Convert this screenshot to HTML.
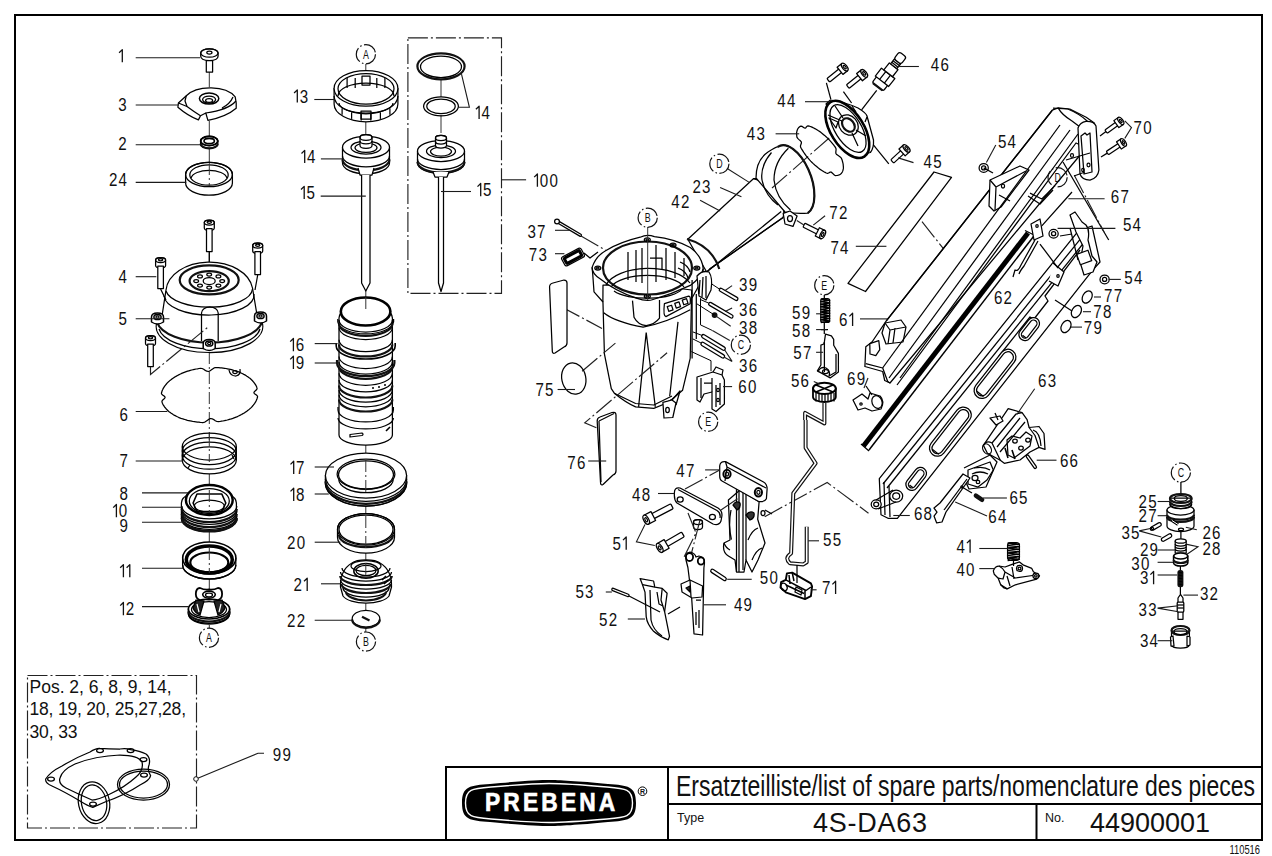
<!DOCTYPE html>
<html><head><meta charset="utf-8"><style>
html,body{margin:0;padding:0;background:#fff;}
svg{display:block;}
text{font-family:"Liberation Sans",sans-serif;fill:#111;}
.lb{font-size:17.6px;}
.ld{stroke:#1a1a1a;stroke-width:1.1;fill:none;}
.p{stroke:#000;stroke-width:1.25;fill:#fff;stroke-linejoin:round;}
.pn{stroke:#000;stroke-width:1.25;fill:none;stroke-linejoin:round;}
.th{stroke:#111;stroke-width:2.2;fill:none;}
.dd{stroke:#222;stroke-width:1.15;fill:none;stroke-dasharray:20 3 2 3;}
.axs{stroke:#333;stroke-width:1;fill:none;}
.ax{stroke:#333;stroke-width:1;fill:none;stroke-dasharray:12 3 2 3;}
.cc{stroke:#111;stroke-width:1.2;fill:none;stroke-dasharray:15 2.5 1.5 2.5;}
</style></head><body>
<svg width="1272" height="856" viewBox="0 0 1272 856">
<rect x="0" y="0" width="1272" height="856" fill="#fff"/>

<line class="axs" x1="209.3" y1="72.0" x2="209.3" y2="87.0"/>
<line class="axs" x1="209.3" y1="121.0" x2="209.3" y2="137.0"/>
<line class="axs" x1="209.3" y1="148.0" x2="209.3" y2="170.0"/>
<line class="axs" x1="209.3" y1="251.0" x2="209.3" y2="262.0"/>
<line class="axs" x1="209.3" y1="474.0" x2="209.3" y2="486.0"/>
<line class="axs" x1="209.3" y1="530.0" x2="209.3" y2="544.0"/>
<line class="axs" x1="209.3" y1="577.0" x2="209.3" y2="590.0"/>
<line class="axs" x1="209.3" y1="625.0" x2="209.3" y2="628.0"/>
<line class="ax" x1="209.3" y1="352.0" x2="209.3" y2="440.0"/>
<line class="axs" x1="209.3" y1="488.0" x2="209.3" y2="500.0"/>
<path class="p" d="M200.7,53 A8.7,4.2 0 0 1 218.1,53 V56 Q218.1,60.5 209.4,60.5 Q200.7,60.5 200.7,56 Z"/>
<ellipse class="pn" cx="209.4" cy="53.0" rx="8.7" ry="4.2"/>
<ellipse class="pn" cx="209.4" cy="52.6" rx="2.6" ry="1.5"/>
<rect class="p" x="206.3" y="60.5" width="6.3" height="11.6"/>
<path class="p" d="M178.4,103 L186.3,95.7 A27.5,15.5 0 0 1 235.2,96.8 L236.2,103 V108.3 Q226,117 207.9,120.4 L205.8,113 L200.5,115.7 L198.4,119.9 Q188,116 177.9,107.3 Z"/>
<path class="pn" d="M236,101 Q228,110 205.8,113 M178.4,103 L187,106.5 Q193,111 200.5,115.7 M233,97 Q230,104 222,108"/>
<path class="pn" d="M186.3,95.7 L185,101 L187,106.5"/>
<ellipse class="pn" cx="209.1" cy="98.6" rx="9.7" ry="5.5" style="stroke-width:1.5"/>
<ellipse class="pn" cx="209.1" cy="99.6" rx="6.5" ry="3.6"/>
<ellipse class="pn" cx="209.1" cy="100.4" rx="3.5" ry="1.9"/>
<path class="p" d="M200.6,141.0 V143.8 A8.6,4.6 0 0 0 217.8,143.8 V141.0 A8.6,4.6 0 0 0 200.6,141.0 Z"/>
<ellipse class="pn" cx="209.2" cy="141.0" rx="8.6" ry="4.6"/>
<ellipse class="pn" cx="209.2" cy="141.0" rx="8.6" ry="4.6" style="stroke-width:1.8"/>
<ellipse class="pn" cx="209.2" cy="141.0" rx="5.2" ry="2.6" style="stroke-width:1.6"/>
<path class="th" d="M200.6,143.8 A8.6,4.6 0 0 0 217.8,143.8"/>
<path class="p" d="M185.6,174.5 V183.0 A23.4,12.2 0 0 0 232.4,183.0 V174.5 A23.4,12.2 0 0 0 185.6,174.5 Z"/>
<ellipse class="pn" cx="209.0" cy="174.5" rx="23.4" ry="12.2"/>
<ellipse class="pn" cx="209.0" cy="175.0" rx="19.2" ry="10.2"/>
<path class="pn" d="M191,178 A18.2,9 0 0 1 227,178"/>
<path class="p" d="M157,322 Q158,318 162,316 L166,290 A43.5,30 0 0 1 252.5,288 L257,315 Q262,318 262,322 A53,26 0 0 1 209,352.5 A53,26 0 0 1 157,322 Z"/>
<path class="th" d="M157,322 A53,24 0 0 0 262,322"/>
<path class="pn" d="M159,329 A51,23 0 0 0 260,329"/>
<path class="pn" d="M166,291 A43.5,19 0 0 0 252.5,289"/>
<path class="pn" d="M164,296 A45,20 0 0 0 254,294"/>
<ellipse class="th" cx="209.2" cy="279.9" rx="29.5" ry="14.5"/>
<ellipse class="th" cx="209.2" cy="281.1" rx="19.6" ry="10.0"/>
<ellipse class="pn" cx="209.2" cy="281.0" rx="6.0" ry="3.5"/>
<ellipse class="pn" cx="222.2" cy="281.0" rx="2.4" ry="1.5"/>
<ellipse class="pn" cx="218.4" cy="285.6" rx="2.4" ry="1.5"/>
<ellipse class="pn" cx="209.2" cy="287.5" rx="2.4" ry="1.5"/>
<ellipse class="pn" cx="200.0" cy="285.6" rx="2.4" ry="1.5"/>
<ellipse class="pn" cx="196.2" cy="281.0" rx="2.4" ry="1.5"/>
<ellipse class="pn" cx="200.0" cy="276.4" rx="2.4" ry="1.5"/>
<ellipse class="pn" cx="209.2" cy="274.5" rx="2.4" ry="1.5"/>
<ellipse class="pn" cx="218.4" cy="276.4" rx="2.4" ry="1.5"/>
<path class="pn" d="M201.5,341 V313 A8.3,6 0 0 1 218.2,313 V341"/>
<path class="p" d="M151.5,317 Q151.5,313 157.5,313 Q163.5,313 163.5,317 V322 Q157.5,326 151.5,322 Z" style="stroke-width:1.5"/>
<ellipse class="pn" cx="157.5" cy="317.0" rx="3.6" ry="2.6" style="stroke-width:1.5"/>
<ellipse class="pn" cx="157.5" cy="317.0" rx="1.6" ry="1.2"/>
<path class="p" d="M254.5,316 Q254.5,312 260.5,312 Q266.5,312 266.5,316 V321 Q260.5,325 254.5,321 Z" style="stroke-width:1.5"/>
<ellipse class="pn" cx="260.5" cy="316.0" rx="3.6" ry="2.6" style="stroke-width:1.5"/>
<ellipse class="pn" cx="260.5" cy="316.0" rx="1.6" ry="1.2"/>
<path class="p" d="M203.2,343.5 Q203.2,339.5 209.2,339.5 Q215.2,339.5 215.2,343.5 V348.5 Q209.2,352.5 203.2,348.5 Z" style="stroke-width:1.5"/>
<ellipse class="pn" cx="209.2" cy="343.5" rx="3.6" ry="2.6" style="stroke-width:1.5"/>
<ellipse class="pn" cx="209.2" cy="343.5" rx="1.6" ry="1.2"/>
<path class="p" d="M204.3,222.5 V228.0 A5.0,2.5 0 0 0 214.3,228.0 V222.5 A5.0,2.5 0 0 0 204.3,222.5 Z"/>
<ellipse class="pn" cx="209.3" cy="222.5" rx="5.0" ry="2.5"/>
<ellipse class="pn" cx="209.3" cy="222.3" rx="2.2" ry="1.1"/>
<rect class="p" x="206.5" y="228.5" width="5.6" height="23.0"/>
<path class="p" d="M155.6,260.0 V265.5 A5.0,2.5 0 0 0 165.6,265.5 V260.0 A5.0,2.5 0 0 0 155.6,260.0 Z"/>
<ellipse class="pn" cx="160.6" cy="260.0" rx="5.0" ry="2.5"/>
<ellipse class="pn" cx="160.6" cy="259.8" rx="2.2" ry="1.1"/>
<rect class="p" x="157.8" y="266.0" width="5.6" height="22.5"/>
<path class="p" d="M252.7,245.5 V251.0 A5.0,2.5 0 0 0 262.7,251.0 V245.5 A5.0,2.5 0 0 0 252.7,245.5 Z"/>
<ellipse class="pn" cx="257.7" cy="245.5" rx="5.0" ry="2.5"/>
<ellipse class="pn" cx="257.7" cy="245.3" rx="2.2" ry="1.1"/>
<rect class="p" x="254.9" y="251.5" width="5.6" height="23.0"/>
<path class="p" d="M145.5,338.0 V343.5 A5.0,2.5 0 0 0 155.5,343.5 V338.0 A5.0,2.5 0 0 0 145.5,338.0 Z"/>
<ellipse class="pn" cx="150.5" cy="338.0" rx="5.0" ry="2.5"/>
<ellipse class="pn" cx="150.5" cy="337.8" rx="2.2" ry="1.1"/>
<rect class="p" x="147.7" y="344.0" width="5.6" height="22.5"/>
<line class="pn" x1="209.3" y1="252.0" x2="209.3" y2="262.0"/>
<path class="dd" d="M150.5,367 V374.5 L209.3,326"/>
<path class="pn" d="M160.6,289 L166,300 M257.7,275 L255,290"/>
<path class="pn" d="M253.9,392.7 L254.3,393.4 L255.3,394.2 L256.4,395.0 L257.3,395.9 L257.6,396.8 L257.3,397.7 L257.1,398.5 L256.8,399.4 L256.4,400.2 L256.0,401.1 L255.6,401.9 L255.1,402.7 L254.5,403.6 L253.9,404.4 L253.3,405.2 L252.6,406.0 L251.9,406.8 L251.2,407.6 L250.4,408.3 L249.5,409.1 L248.7,409.8 L247.7,410.5 L246.8,411.3 L245.8,411.9 L244.8,412.6 L243.7,413.3 L242.6,413.9 L241.5,414.5 L240.3,415.1 L239.1,415.7 L237.9,416.3 L236.7,416.8 L235.4,417.3 L234.1,417.8 L232.8,418.3 L231.4,418.8 L230.1,419.2 L228.7,419.6 L227.3,420.0 L225.8,420.3 L224.4,420.7 L222.9,421.0 L221.5,421.2 L220.0,421.5 L218.5,421.7 L216.9,421.5 L215.3,420.7 L213.7,419.6 L212.2,418.8 L210.7,418.5 L209.3,418.9 L207.9,419.9 L206.4,421.1 L204.9,422.1 L203.3,422.5 L201.8,422.5 L200.3,422.4 L198.8,422.2 L197.4,422.1 L195.9,421.9 L194.4,421.7 L193.0,421.5 L191.6,421.2 L190.2,420.9 L188.8,420.6 L187.4,420.3 L186.1,419.9 L184.8,419.5 L183.5,419.1 L182.2,418.7 L181.0,418.3 L179.7,417.8 L178.5,417.3 L177.4,416.8 L176.3,416.2 L175.2,415.6 L174.1,415.1 L173.1,414.5 L172.1,413.8 L171.2,413.2 L170.3,412.5 L169.4,411.9 L168.5,411.2 L167.8,410.5 L167.0,409.7 L166.3,409.0 L165.6,408.2 L165.0,407.5 L164.4,406.7 L163.9,405.9 L163.4,405.1 L162.9,404.3 L162.5,403.5 L162.2,402.6 L161.9,401.8 L162.1,400.9 L162.8,399.9 L163.9,399.0 L164.8,398.1 L165.1,397.3 L164.7,396.6 L163.7,395.8 L162.6,395.0 L161.7,394.1 L161.4,393.2 L161.7,392.3 L161.9,391.5 L162.2,390.6 L162.6,389.8 L163.0,388.9 L163.4,388.1 L163.9,387.3 L164.5,386.4 L165.1,385.6 L165.7,384.8 L166.4,384.0 L167.1,383.2 L167.8,382.4 L168.6,381.7 L169.5,380.9 L170.3,380.2 L171.3,379.5 L172.2,378.7 L173.2,378.1 L174.2,377.4 L175.3,376.7 L176.4,376.1 L177.5,375.5 L178.7,374.9 L179.9,374.3 L181.1,373.7 L182.3,373.2 L183.6,372.7 L184.9,372.2 L186.2,371.7 L187.6,371.2 L188.9,370.8 L190.3,370.4 L191.7,370.0 L193.2,369.7 L194.6,369.3 L196.1,369.0 L197.5,368.8 L199.0,368.5 L200.5,368.3 L202.1,368.5 L203.7,369.3 L205.3,370.4 L206.8,371.2 L208.3,371.5 L209.7,371.1 L211.1,370.1 L212.6,368.9 L214.1,367.9 L215.7,367.5 L217.2,367.5 L218.7,367.6 L220.2,367.8 L221.6,367.9 L223.1,368.1 L224.6,368.3 L226.0,368.5 L227.4,368.8 L228.8,369.1 L230.2,369.4 L231.6,369.7 L232.9,370.1 L234.2,370.5 L235.5,370.9 L236.8,371.3 L238.0,371.7 L239.3,372.2 L240.5,372.7 L241.6,373.2 L242.7,373.8 L243.8,374.4 L244.9,374.9 L245.9,375.5 L246.9,376.2 L247.8,376.8 L248.7,377.5 L249.6,378.1 L250.5,378.8 L251.2,379.5 L252.0,380.3 L252.7,381.0 L253.4,381.8 L254.0,382.5 L254.6,383.3 L255.1,384.1 L255.6,384.9 L256.1,385.7 L256.5,386.5 L256.8,387.4 L257.1,388.2 L256.9,389.1 L256.2,390.1 L255.1,391.0 L254.2,391.9 L253.9,392.7 Z"/>
<path class="pn" d="M229,370 Q230,376 236,376 Q241,375 240,369"/>
<ellipse class="pn" cx="235.0" cy="372.0" rx="2.2" ry="1.5"/>
<ellipse class="pn" cx="209.3" cy="446.5" rx="27.0" ry="13.5"/>
<ellipse class="pn" cx="209.3" cy="451.1" rx="27.0" ry="13.5"/>
<ellipse class="pn" cx="209.3" cy="455.7" rx="27.0" ry="13.5"/>
<ellipse class="pn" cx="209.3" cy="460.3" rx="27.0" ry="13.5"/>
<path class="pn" d="M182.3,446.5 V460.3 M236.3,446.5 V460.3"/>
<path class="pn" d="M232,455 L234,459 M188,468 L190,465"/>
<path class="p" d="M181.4,503 V518 A27.5,13 0 0 0 236.4,518 V503 A27.5,13 0 0 0 181.4,503 Z"/>
<path class="pn" d="M181.8,506.0 A27.5,13.0 0 0 0 236.8,506.0"/>
<path class="th" d="M181.8,509.0 A27.5,13.0 0 0 0 236.8,509.0"/>
<path class="pn" d="M181.8,511.5 A27.5,13.0 0 0 0 236.8,511.5"/>
<path class="th" d="M181.8,514.0 A27.5,13.0 0 0 0 236.8,514.0"/>
<path class="pn" d="M181.8,516.5 A27.5,13.0 0 0 0 236.8,516.5"/>
<path class="th" d="M181.8,518.5 A27.5,13.0 0 0 0 236.8,518.5"/>
<path class="th" d="M181.8,518.0 A27.5,13.0 0 0 0 236.8,518.0"/>
<ellipse class="p" cx="209.3" cy="500.0" rx="23.4" ry="15.0" style="stroke-width:2.4"/>
<ellipse class="pn" cx="209.3" cy="501.0" rx="20.0" ry="12.5"/>
<path class="pn" d="M193.1,503 L197,494 H221.8 L225.8,503 L221.8,511.6 H197 Z" style="stroke-width:1.6"/>
<ellipse class="pn" cx="209.3" cy="506.0" rx="15.0" ry="6.0"/>
<path class="p" d="M182.6,558 V565 A26.6,14 0 0 0 235.8,565 V558 Z"/>
<ellipse class="p" cx="209.3" cy="558.0" rx="26.6" ry="16.0" style="stroke-width:1.6"/>
<ellipse class="pn" cx="209.3" cy="559.5" rx="23.0" ry="13.5" style="stroke-width:3.5"/>
<ellipse class="pn" cx="209.3" cy="562.4" rx="19.0" ry="9.9" style="stroke-width:2.2"/>
<path class="pn" d="M182.7,565.0 A26.6,14.0 0 0 0 235.9,565.0"/>
<path class="p" d="M188.5,609 V614 A20.6,10 0 0 0 229.6,614 V609 A20.6,10 0 0 0 188.5,609 Z" style="stroke-width:1.6"/>
<ellipse class="p" cx="209.0" cy="609.0" rx="20.6" ry="10.0" style="stroke-width:1.6"/>
<ellipse class="pn" cx="209.0" cy="609.5" rx="17.5" ry="8.0"/>
<path class="th" d="M188.4,611.5 A20.6,10.0 0 0 0 229.6,611.5"/>
<path class="pn" d="M188.4,614.0 A20.6,10.0 0 0 0 229.6,614.0"/>
<path class="p" d="M196,600 L193,608 Q195,613 200,615 L204,601 Z" style="fill:#222"/>
<path class="p" d="M222,600 L225,608 Q223,613 218,615 L214,601 Z" style="fill:#222"/>
<path class="pn" d="M197,604 L199,612 M221,604 L219,612" style="stroke:#fff;stroke-width:1.2"/>
<path class="p" d="M195.8,594 Q196,588 200,588 Q204,590 209,589.5 Q214,590 218,588 Q222,588 222.1,594 Q222,599 218,600 Q214,599 209,599.5 Q204,599 200,600 Q196,599 195.8,594 Z" style="stroke-width:1.8"/>
<ellipse class="pn" cx="209.0" cy="594.6" rx="6.3" ry="3.5" style="stroke-width:1.6"/>
<ellipse class="pn" cx="209.0" cy="595.0" rx="3.5" ry="1.8"/>
<line class="axs" x1="365.8" y1="64.0" x2="365.8" y2="105.0"/>
<line class="axs" x1="365.8" y1="121.0" x2="365.8" y2="135.0"/>
<line class="axs" x1="365.8" y1="290.0" x2="365.8" y2="310.0"/>
<line class="axs" x1="365.8" y1="445.0" x2="365.8" y2="455.0"/>
<line class="axs" x1="365.8" y1="505.0" x2="365.8" y2="515.0"/>
<line class="axs" x1="365.8" y1="553.0" x2="365.8" y2="570.0"/>
<line class="axs" x1="365.8" y1="603.0" x2="365.8" y2="632.0"/>
<line class="ax" x1="365.8" y1="455.0" x2="365.8" y2="500.0"/>
<line class="ax" x1="365.8" y1="515.0" x2="365.8" y2="548.0"/>
<path class="p" d="M334.1,88.4 V104 A31.9,17.8 0 0 0 397.9,104 V88.4 Z"/>
<ellipse class="p" cx="366.0" cy="88.4" rx="31.9" ry="17.8"/>
<ellipse class="pn" cx="366.0" cy="88.8" rx="28.0" ry="15.3"/>
<path class="pn" d="M338,96 A28,13 0 0 1 394,96"/>
<path class="pn" d="M339.0,103.0 A27.0,10.0 0 0 0 393.0,103.0"/>
<path class="pn" d="M334.1,96.0 A31.9,17.8 0 0 0 397.9,96.0"/>
<line class="pn" x1="342.1" y1="108.2" x2="342.1" y2="114.8"/>
<line class="pn" x1="351.6" y1="112.3" x2="351.6" y2="118.9"/>
<line class="pn" x1="361.2" y1="114.0" x2="361.2" y2="120.6"/>
<line class="pn" x1="370.8" y1="114.0" x2="370.8" y2="120.6"/>
<line class="pn" x1="380.4" y1="112.3" x2="380.4" y2="118.9"/>
<line class="pn" x1="389.9" y1="108.2" x2="389.9" y2="114.8"/>
<rect class="pn" x="361" y="111" width="10" height="8"/>
<line class="pn" x1="347.1" y1="78.0" x2="347.1" y2="88.0"/>
<line class="pn" x1="355.2" y1="78.0" x2="355.2" y2="88.0"/>
<line class="pn" x1="376.8" y1="78.0" x2="376.8" y2="88.0"/>
<line class="pn" x1="384.9" y1="78.0" x2="384.9" y2="88.0"/>
<rect class="pn" x="362" y="76" width="8" height="9"/>
<path class="p" d="M342.5,147.2 V163 A23.5,10.8 0 0 0 389.5,163 V147.2 Z"/>
<ellipse class="p" cx="366.0" cy="147.2" rx="23.5" ry="10.8"/>
<path class="pn" d="M342.5,156.0 A23.5,10.8 0 0 0 389.5,156.0"/>
<path class="th" d="M342.5,159.5 A23.5,10.8 0 0 0 389.5,159.5"/>
<ellipse class="pn" cx="366.0" cy="147.5" rx="15.0" ry="6.5"/>
<ellipse class="pn" cx="366.0" cy="147.8" rx="11.0" ry="4.6"/>
<path class="p" d="M360.0,137.5 V145.5 A6.0,2.8 0 0 0 372.0,145.5 V137.5 A6.0,2.8 0 0 0 360.0,137.5 Z"/>
<ellipse class="pn" cx="366.0" cy="137.5" rx="6.0" ry="2.8"/>
<path class="pn" d="M360.0,141.0 A6.0,2.8 0 0 0 372.0,141.0"/>
<path class="p" d="M358,168 L360,175 H372 L374,168"/>
<path class="p" d="M361.6,175 V283 L365.8,291 L370,283 V175"/>
<path class="p" d="M339,318 V435 A26.7,10 0 0 0 392.4,435 V318 A26.7,13 0 0 0 339,318 Z"/>
<path class="pn" d="M337.8,319 V322 A28,13 0 0 0 393.6,322 V319"/>
<path class="pn" d="M339.0,320.0 A26.7,12.0 0 0 0 392.4,320.0"/>
<path class="th" d="M339.0,323.8 A26.7,12.0 0 0 0 392.4,323.8"/>
<path class="pn" d="M339.0,327.5 A26.7,12.0 0 0 0 392.4,327.5"/>
<path class="pn" d="M339.0,339.7 A26.7,12.0 0 0 0 392.4,339.7"/>
<path class="th" d="M339.0,344.4 A26.7,12.0 0 0 0 392.4,344.4"/>
<path class="pn" d="M339.0,356.5 A26.7,12.0 0 0 0 392.4,356.5"/>
<path class="pn" d="M339.0,362.0 A26.7,12.0 0 0 0 392.4,362.0"/>
<path class="th" d="M339.0,366.8 A26.7,12.0 0 0 0 392.4,366.8"/>
<path class="pn" d="M339.0,373.3 A26.7,12.0 0 0 0 392.4,373.3"/>
<path class="pn" d="M339.0,379.9 A26.7,12.0 0 0 0 392.4,379.9"/>
<path class="th" d="M339.0,385.5 A26.7,12.0 0 0 0 392.4,385.5"/>
<path class="pn" d="M339.0,390.1 A26.7,12.0 0 0 0 392.4,390.1"/>
<path class="pn" d="M339.0,394.8 A26.7,12.0 0 0 0 392.4,394.8"/>
<path class="th" d="M339.0,399.5 A26.7,12.0 0 0 0 392.4,399.5"/>
<path class="pn" d="M336.2,343 V346 A29.5,13 0 0 0 395.2,346 V343" style="stroke-width:1.6"/>
<path class="th" d="M337,360 V363 A28.7,13 0 0 0 394.4,363 V360"/>
<path class="pn" d="M338,407 V410 A27.7,12 0 0 0 393.4,410 V407"/>
<path class="pn" d="M338,418 A27.7,11 0 0 0 393.4,418"/>
<ellipse class="p" cx="365.6" cy="311.5" rx="24.8" ry="14.0" style="stroke-width:2.6"/>
<path class="pn" d="M350,437 L362,435.5 Q364,434 362,433 L350,434.5 Z"/>
<path class="pn" d="M386,431 L390,427 M372,388 L374,388 M378,387 L380,387 M384,385 L386,385" style="stroke-width:1.6"/>
<path class="p" d="M325.4,475.6 V482 A40.6,24 0 0 0 406.6,482 V475.6 Z"/>
<ellipse class="p" cx="366.0" cy="475.6" rx="40.6" ry="22.5"/>
<path class="pn" d="M325.4,478.9 A40.6,22.5 0 0 0 406.6,478.9"/>
<path class="th" d="M325.4,481.4 A40.6,22.5 0 0 0 406.6,481.4"/>
<path class="pn" d="M325.4,483.6 A40.6,22.5 0 0 0 406.6,483.6"/>
<ellipse class="pn" cx="366.0" cy="474.2" rx="28.9" ry="15.1"/>
<ellipse class="pn" cx="366.0" cy="474.8" rx="27.5" ry="14.0"/>
<path class="pn" d="M338.8,479.6 A27.2,13.1 0 0 0 393.2,479.6"/>
<path class="p" d="M337.5,529.3 V537.3 A28.5,15.8 0 0 0 394.5,537.3 V529.3 A28.5,15.8 0 0 0 337.5,529.3 Z"/>
<ellipse class="pn" cx="366.0" cy="529.3" rx="28.5" ry="15.8"/>
<ellipse class="pn" cx="366.0" cy="529.6" rx="27.0" ry="14.6"/>
<path class="th" d="M339,535 A27,12.1 0 0 0 393,535"/>
<path class="p" d="M340.5,587 Q340,570 352,563 A15,5 0 0 1 380,563 Q392,570 391.5,587 L389,596 A24,10 0 0 1 343,596 Z"/>
<ellipse class="pn" cx="366.0" cy="566.0" rx="15.0" ry="5.5"/>
<ellipse class="pn" cx="366.0" cy="570.9" rx="12.2" ry="7.4" style="stroke-width:1.5"/>
<ellipse class="pn" cx="366.0" cy="570.5" rx="10.0" ry="5.2"/>
<path class="pn" d="M342.0,568.0 A24.0,9.0 0 0 0 390.0,568.0"/>
<path class="pn" d="M340.5,572.0 A25.5,9.0 0 0 0 391.5,572.0"/>
<path class="th" d="M340.2,576.0 A25.8,9.0 0 0 0 391.8,576.0"/>
<path class="pn" d="M340.5,580.0 A25.5,9.0 0 0 0 391.5,580.0"/>
<path class="th" d="M341.5,584.0 A24.5,9.0 0 0 0 390.5,584.0"/>
<path class="pn" d="M343.0,588.0 A23.0,9.0 0 0 0 389.0,588.0"/>
<path class="th" d="M346.0,591.5 A20.0,9.0 0 0 0 386.0,591.5"/>
<path class="pn" d="M382,580 L386,576 M384,584 L388,580" style="stroke-width:1.6"/>
<ellipse class="p" cx="366.0" cy="618.7" rx="13.8" ry="8.3"/>
<path class="th" d="M352.2,619.5 A13.8,8.3 0 0 0 379.8,619.5"/>
<line class="th" x1="362.0" y1="616.8" x2="369.5" y2="620.5"/>
<rect class="dd" x="407.9" y="37.9" width="93.6" height="255.4"/>
<line class="axs" x1="441.0" y1="79.0" x2="441.0" y2="97.0"/>
<line class="axs" x1="441.0" y1="115.0" x2="441.0" y2="133.0"/>
<ellipse class="th" cx="441.0" cy="66.3" rx="23.6" ry="13.0"/>
<ellipse class="pn" cx="441.0" cy="66.8" rx="20.5" ry="10.7"/>
<ellipse class="pn" cx="441.0" cy="106.3" rx="17.4" ry="9.5"/>
<ellipse class="pn" cx="441.0" cy="106.3" rx="14.2" ry="7.3"/>
<path class="p" d="M417.5,151 V163 A23.5,10.5 0 0 0 464.5,163 V151 Z"/>
<ellipse class="p" cx="441.0" cy="151.0" rx="23.5" ry="10.5"/>
<path class="pn" d="M417.5,159.0 A23.5,10.5 0 0 0 464.5,159.0"/>
<path class="th" d="M417.5,162.0 A23.5,10.5 0 0 0 464.5,162.0"/>
<ellipse class="pn" cx="441.0" cy="151.3" rx="14.5" ry="6.3"/>
<ellipse class="pn" cx="441.0" cy="151.6" rx="10.5" ry="4.4"/>
<path class="p" d="M435.5,138.0 V145.5 A5.5,2.6 0 0 0 446.5,145.5 V138.0 A5.5,2.6 0 0 0 435.5,138.0 Z"/>
<ellipse class="pn" cx="441.0" cy="138.0" rx="5.5" ry="2.6"/>
<path class="pn" d="M435.5,141.5 A5.5,2.6 0 0 0 446.5,141.5"/>
<path class="p" d="M433,172 L435,177 H447 L449,172"/>
<path class="p" d="M438.5,177 V283 L441,291.5 L443.5,283 V177"/>
<path class="dd" d="M581,236 L606,250.5"/>
<path class="p" d="M687.8,239.3 L753.4,178.7 Q767,178 775,186 Q784,198 784.2,213.4 L783,217.4 L709.7,269.1 L706.7,272 Z"/>
<path class="pn" d="M706.7,272 L781.2,211.5"/>
<path class="pn" d="M709.7,269.1 L783.2,217.4"/>
<path class="th" d="M687,239 Q712,246 719.3,269"/>
<path class="pn" d="M753.4,178.7 Q771,183 779,195 Q784,204 784.2,213.4"/>
<path class="p" d="M756,178 Q756,160 768,152 Q776,147 777.7,146.9 A35.5,18 69 0 1 807.7,213.2 Q795,214 785,212 Z"/>
<path class="th" d="M777.7,146.9 A35.5,18 69 0 1 807.7,213.2"/>
<path class="pn" d="M771.5,152.5 Q760,166 762,180 Q765,195 777.9,205 M788.4,148.3 Q774,162 774,180 Q776,198 790.5,210"/>
<path class="p" d="M783.2,213.4 L790,211 L797.1,216 L793,226.4 L785,224 Z"/>
<ellipse class="pn" cx="790.0" cy="218.5" rx="2.5" ry="3.0"/>
<path class="p" d="M602.9,300 L604.4,353.8 L611.3,388.7 L614.3,393.2 Q625,402 635.6,406.9 L653.8,408.4 Q664,405 672,399.3 L682.6,390.2 L690.2,358.3 L691.7,290 L650,285 L603,285 Z"/>
<path class="pn" d="M603.7,312.8 Q615,322 643.1,327.2 Q668,322 690.2,309.7"/>
<path class="pn" d="M646.2,332.5 L638.6,406.9 M646.2,332.5 L655.3,406.9 M678,321.9 L669.7,396.3"/>
<path class="pn" d="M614.3,393.2 L635.6,403.5 L653.8,405 L672,396"/>
<path class="p" d="M662.9,402.4 L672,400 L676,403 L672.8,417.5 L664,418 Z"/>
<ellipse class="pn" cx="667.5" cy="410.0" rx="1.8" ry="2.6"/>
<path class="pn" d="M672,400 L680,391 L676,405"/>
<path class="p" d="M592.1,267.4 Q596,256 605.6,250.7 Q620,242 640.2,237.2 Q647,234 654.4,236.6 Q675,239 690.3,247.5 Q702,256 703.2,268.7 Q702,277 690.3,285.4 Q672,294 653.1,299.5 Q647,302 636.4,298.2 Q615,291 600.4,279 Q592,274 592.1,267.4 Z"/>
<path class="pn" d="M592.1,267.4 L592.7,273.8 L594,291.8 L603,302 M703.2,268.7 L702,280 L692,298"/>
<ellipse class="th" cx="647.5" cy="268.0" rx="44.5" ry="26.5"/>
<path class="pn" d="M606,285 A44,22 0 0 1 690,283"/>
<path class="pn" d="M611,287 A38,16 0 0 1 684,287"/>
<path class="pn" d="M614,291 A36,12 0 0 0 682,289"/>
<path class="p" d="M697,276 Q702,270 709,272 Q713,278 711,290 L706,300 L699,296 Z"/>
<path class="pn" d="M700,280 L699,294 M703,277 L702,297 M706,276 L706,298"/>
<path class="pn" d="M636,250 V282 M642,248 V283 M656,245 V282 M666,248 V280 M675,252 V278 M684,258 V276 M628,252 V280 M650,258 H662 V270"/>
<path class="pn" d="M680,262 Q688,265 690,272 M678,268 Q686,271 688,278"/>
<ellipse class="pn" cx="647.3" cy="239.8" rx="3.0" ry="2.0"/>
<ellipse class="pn" cx="647.3" cy="239.8" rx="1.3" ry="0.9"/>
<ellipse class="pn" cx="597.8" cy="268.0" rx="3.0" ry="2.0"/>
<ellipse class="pn" cx="597.8" cy="268.0" rx="1.3" ry="0.9"/>
<ellipse class="pn" cx="696.8" cy="268.0" rx="3.0" ry="2.0"/>
<ellipse class="pn" cx="696.8" cy="268.0" rx="1.3" ry="0.9"/>
<ellipse class="pn" cx="647.3" cy="296.3" rx="3.0" ry="2.0"/>
<ellipse class="pn" cx="647.3" cy="296.3" rx="1.3" ry="0.9"/>
<ellipse class="pn" cx="673.0" cy="245.0" rx="3.0" ry="2.0"/>
<ellipse class="pn" cx="673.0" cy="245.0" rx="1.3" ry="0.9"/>
<path class="dd" d="M561.7,307 L602,328.4"/>
<path class="dd" d="M582.1,371.2 L615.4,343.1"/>
<path class="dd" d="M596.4,427.8 L584.7,422.9 L667.1,352.8"/>
<path class="axs" d="M647.7,227 V300"/>
<path class="pn" d="M632.5,300.6 L634,317.3 Q638,325 646.2,325.7 Q655,324 659.5,318 L659.5,300"/>
<path class="p" d="M664.4,303.7 L688.7,296.1 Q691,296 690.2,303.7 L665.9,316.6 Q663,316 664.4,303.7 Z"/>
<rect class="pn" x="668.0" y="306.5" width="4.5" height="5" transform="rotate(-18 668.0 309.0)"/>
<rect class="pn" x="675.5" y="303.2" width="4.5" height="5" transform="rotate(-18 675.5 305.7)"/>
<rect class="pn" x="683.0" y="299.9" width="4.5" height="5" transform="rotate(-18 683.0 302.4)"/>
<rect class="p" x="0" y="-1.6" width="21.0" height="3.2" rx="1.6" transform="translate(719.5,289.1) rotate(30.0)"/>
<rect class="p" x="0" y="-1.6" width="27.7" height="3.2" rx="1.6" transform="translate(708.9,303.2) rotate(30.4)"/>
<circle cx="714.6" cy="315.1" r="2.9" fill="#111"/>
<rect class="p" x="0" y="-1.7" width="27.1" height="3.4" rx="1.7" transform="translate(701.9,335.4) rotate(31.3)"/>
<rect class="p" x="0" y="-1.7" width="27.1" height="3.4" rx="1.7" transform="translate(701.2,343.1) rotate(31.3)"/>
<path class="pn" d="M711,283.5 L719.5,289.1 M700.5,299.6 L708.9,303.2 M697,303.9 L714.6,315.1 M692.8,331.9 L701.9,335.4 M692.8,338.9 L701.2,343.1" style="stroke-width:1"/>
<path class="pn" d="M700.5,298.2 V324.9 L712.4,330.5" style="stroke-width:1"/>
<path class="dd" d="M712.4,330.5 L732.1,341.7"/>
<path class="pn" d="M691.4,351.6 L711,360.7 V371.2" style="stroke-width:1"/>
<path class="pn" d="M692.1,280 V358.6 M696.3,294 V339"/>
<path class="p" d="M697,377 L713,372 L722,375 L724.4,380 L724.4,404 L716,411.5 L712,409 L712,392 L704,394 L700,402 L697,400 Z"/>
<path class="pn" d="M701,378 L701,398 M712,378 L712,392 M704,383 H712 M716,385 V407 M720,383 V405"/>
<ellipse class="pn" cx="718.0" cy="390.0" rx="1.3" ry="1.6"/>
<ellipse class="pn" cx="718.0" cy="400.0" rx="1.3" ry="1.6"/>
<path class="pn" d="M713,372 L716,367 L723,370 L722,375"/>
<rect class="p" x="0" y="-1.1" width="29.0" height="2.2" rx="1.1" transform="translate(556.3,221.0) rotate(30.5)"/>
<ellipse class="p" cx="557.0" cy="221.4" rx="2.4" ry="2.4"/>
<rect class="p" x="-11" y="-5" width="22" height="10" rx="2" transform="translate(573,257) rotate(-28)"/>
<rect class="pn" style="stroke-width:3" x="-8.5" y="-3" width="17" height="6" rx="1" transform="translate(573,257) rotate(-28)"/>
<path class="pn" d="M584,253 L590,258 L598,252"/>
<path class="p" d="M549.6,288 Q549,284 553,283 L564,280 Q567,280 567,283 L567,343 Q567,346 564,347 L555,353 Q552.3,354 552.3,351 Z"/>
<ellipse class="pn" cx="573.8" cy="378.5" rx="12.0" ry="15.8" transform="rotate(-12 573.8 378.5)"/>
<path class="p" d="M597.2,421.3 Q597,418 600,417 L612,412.5 Q616,411.5 616,415 L616,471 Q616,474 613,475 L603,484.5 Q600.5,486 600.5,482 Z"/>
<path class="pn" d="M599,421 L601,482 M599,421 L614,413.5"/>
<path class="dd" d="M772,188 L852,118"/>
<path class="pn" d="M840.9,173.8 L840.4,174.2 L839.7,174.6 L839.1,174.9 L838.3,175.2 L837.5,175.4 L836.7,175.5 L835.8,175.6 L834.8,175.3 L833.7,174.4 L832.5,173.2 L831.4,172.2 L830.5,172.0 L829.6,172.4 L828.6,173.0 L827.5,173.4 L826.3,173.0 L825.1,172.4 L823.9,171.8 L822.7,171.0 L821.5,170.2 L820.2,169.4 L819.0,168.5 L817.8,167.6 L816.6,166.6 L815.4,165.6 L814.2,164.5 L813.0,163.4 L811.8,162.2 L810.7,161.1 L809.6,159.9 L808.5,158.6 L807.5,157.4 L806.4,156.1 L805.5,154.8 L804.5,153.5 L803.6,152.2 L802.8,150.9 L802.0,149.6 L801.2,148.3 L800.5,147.0 L800.5,145.6 L801.0,144.2 L801.4,143.0 L801.3,141.9 L800.4,140.8 L799.0,139.6 L797.7,138.4 L796.9,137.2 L796.8,136.1 L796.7,135.0 L796.6,134.0 L796.6,133.1 L796.7,132.1 L796.9,131.3 L797.1,130.5 L797.4,129.7 L797.7,129.0 L798.1,128.3 L798.5,127.8 L799.1,127.2 L799.6,126.8 L800.3,126.4 L801.0,126.1 L802.0,126.4 L803.3,127.2 L804.4,128.0 L805.2,128.2 L805.9,127.8 L806.4,126.9 L807.2,126.1 L808.1,125.9 L809.2,126.2 L810.3,126.5 L811.4,126.9 L812.5,127.4 L813.7,128.0 L814.9,128.6 L816.1,129.2 L817.3,130.0 L818.5,130.8 L819.8,131.6 L821.0,132.5 L822.2,133.4 L823.4,134.4 L824.6,135.4 L825.8,136.5 L827.0,137.6 L828.2,138.8 L829.3,139.9 L830.4,141.1 L831.5,142.4 L832.5,143.6 L833.6,144.9 L834.5,146.2 L835.5,147.5 L836.1,148.9 L836.0,150.5 L835.8,152.1 L835.9,153.5 L836.7,154.6 L838.2,155.6 L839.9,156.7 L841.2,157.9 L841.7,159.1 L842.2,160.3 L842.5,161.5 L842.8,162.7 L843.1,163.8 L843.2,164.9 L843.3,166.0 L843.4,167.0 L843.4,167.9 L843.3,168.9 L843.1,169.7 L842.9,170.5 L842.6,171.3 L842.3,172.0 L841.9,172.7 L841.5,173.2 L840.9,173.8 Z"/>
<path class="p" d="M830.4,100 Q845,102 858,108 Q866.2,113 867,116 L873.5,140 Q874,148 870.4,152.5 L860,155 L826,104 Z"/>
<path class="pn" d="M852,106 L856,112 M867,117 L865,122"/>
<ellipse class="p" cx="847.3" cy="129.4" rx="32.0" ry="16.5" transform="rotate(58 847.3 129.4)"/>
<ellipse class="pn" cx="847.3" cy="129.4" rx="32.0" ry="16.5" transform="rotate(58 847.3 129.4)" style="stroke-width:2.6"/>
<ellipse class="pn" cx="848.0" cy="128.5" rx="27.0" ry="13.0" transform="rotate(58 848 128.5)"/>
<ellipse class="th" cx="848.4" cy="125.0" rx="5.5" ry="7.5" transform="rotate(-40 848.4 125)"/>
<ellipse class="pn" cx="848.4" cy="125.0" rx="9.0" ry="11.0" transform="rotate(-40 848.4 125)"/>
<path class="pn" d="M828,115 L842,121 M835,106 L843,118 M852,133 L858,146 M856,130 L866,136"/>
<path class="pn" d="M829,118 L838,122 L836,128 Z"/>
<g transform="translate(844.7,67.1) rotate(141.2)"><rect class="p" x="4.0" y="-2.2" width="17.1" height="4.4" rx="1"/><path class="p" d="M0,-4.6 H6 V4.6 H0 Z"/><ellipse class="p" cx="0" cy="0" rx="2.3" ry="4.6"/><ellipse class="pn" cx="0" cy="0" rx="1.0" ry="2.1"/></g>
<g transform="translate(864.2,73.4) rotate(141.2)"><rect class="p" x="4.0" y="-2.2" width="17.1" height="4.4" rx="1"/><path class="p" d="M0,-4.6 H6 V4.6 H0 Z"/><ellipse class="p" cx="0" cy="0" rx="2.3" ry="4.6"/><ellipse class="pn" cx="0" cy="0" rx="1.0" ry="2.1"/></g>
<path class="pn" d="M826.4,82.8 L830.8,99.2"/>
<path class="pn" d="M843.4,91.6 L851.6,103"/>
<path class="pn" d="M861.6,109.9 L876.7,90.4"/>
<g transform="translate(890,71) rotate(-52)"><rect class="p" x="-20" y="-7" width="8" height="14" rx="2"/><path class="p" d="M-13,-8.5 H-3 V8.5 H-13 Z"/><path class="pn" d="M-13,-3 H-3 M-13,3 H-3"/><rect class="p" x="-3" y="-5.5" width="9" height="11"/><rect class="p" x="6" y="-4" width="6" height="8"/><path class="pn" d="M8,-4 V4 M10,-4 V4"/><rect class="p" x="12" y="-4.5" width="9" height="9" rx="2.5"/><path class="th" d="M-20,-6 V6"/></g>
<g transform="translate(906.5,148.4) rotate(137.5)"><rect class="p" x="4.0" y="-2.2" width="15.3" height="4.4" rx="1"/><path class="p" d="M0,-4.6 H6 V4.6 H0 Z"/><ellipse class="p" cx="0" cy="0" rx="2.3" ry="4.6"/><ellipse class="pn" cx="0" cy="0" rx="1.0" ry="2.1"/></g>
<path class="pn" d="M873.4,144.9 L888.8,163.8"/>
<g transform="translate(822.7,234.5) rotate(-153.4)"><rect class="p" x="4.0" y="-2.2" width="17.0" height="4.4" rx="1"/><path class="p" d="M0,-4.6 H6 V4.6 H0 Z"/><ellipse class="p" cx="0" cy="0" rx="2.3" ry="4.6"/><ellipse class="pn" cx="0" cy="0" rx="1.0" ry="2.1"/></g>
<path class="dd" d="M796.8,220.4 L803.9,225.1"/>
<path class="p" d="M934,172 L951.5,177.3 L865.5,291.5 L848,283.4 Z"/>
<path class="dd" d="M922,221.6 L958.2,267.3"/>
<path class="p" d="M1078.6,230.7 L1092,226 L1100,262 L1092.7,270.1 L897.4,518.3 L888,518.3 L881,514.8 L879.3,478.6 Z"/>
<path class="pn" d="M1082.1,236.8 L883,484"/>
<path class="pn" d="M1086,240 L887,488"/>
<path class="pn" d="M1080,250 L1045,296 L1048,301 L1034,319 L1030,317 L999,356"/>
<path class="pn" d="M884,482 L885,515 M889,486 L890,517"/>
<g transform="translate(1029.2,329.1) rotate(-52)"><rect class="p" x="-13.0" y="-6.0" width="26" height="12" rx="6.0"/><rect class="pn" x="-10.5" y="-3.5" width="21" height="7" rx="3.5"/><path class="pn" d="M-9.0,-1.5 V3.0"/></g>
<g transform="translate(995.0,373.8) rotate(-52)"><rect class="p" x="-29.0" y="-8.0" width="58" height="16" rx="8.0"/><rect class="pn" x="-26.5" y="-5.5" width="53" height="11" rx="5.5"/><path class="pn" d="M-25.0,-3.5 V5.0"/></g>
<g transform="translate(950.4,431.6) rotate(-52)"><rect class="p" x="-29.0" y="-8.0" width="58" height="16" rx="8.0"/><rect class="pn" x="-26.5" y="-5.5" width="53" height="11" rx="5.5"/><path class="pn" d="M-25.0,-3.5 V5.0"/></g>
<g transform="translate(916.2,478.9) rotate(-52)"><rect class="p" x="-13.0" y="-6.0" width="26" height="12" rx="6.0"/><rect class="pn" x="-10.5" y="-3.5" width="21" height="7" rx="3.5"/><path class="pn" d="M-9.0,-1.5 V3.0"/></g>
<ellipse class="p" cx="896.2" cy="496.1" rx="6.5" ry="6.0"/>
<ellipse class="pn" cx="896.2" cy="496.1" rx="3.5" ry="3.2"/>
<ellipse class="p" cx="876.2" cy="504.3" rx="5.0" ry="4.5"/>
<ellipse class="pn" cx="876.2" cy="504.3" rx="2.5" ry="2.3"/>
<path class="pn" d="M876,500 L893,490 M878,509 L896,502"/>
<path class="pn" d="M1028,233 L863.5,446" style="stroke:#000;stroke-width:5"/>
<path class="pn" d="M1033.5,236.5 L869,450" style="stroke-width:1.5"/>
<path class="pn" d="M1025,230.5 L1036,236 M861,444 L869,451"/>
<path class="p" d="M1052.3,110.2 L1058.1,107.9 L1069.8,109 L1086.2,117.2 L1094.3,123 L1086,148 L890,383 L884.7,380.5 L882.7,371.5 L864.9,366.5 L865.8,346.7 L872,342 L886.3,320.9 Z"/>
<path class="pn" d="M1058.1,107.9 Q1062,115 1072,121 L1080,127"/>
<path class="pn" d="M1030,193.1 L1041.8,199 L1053.5,187.3 M1072,192 L1041.8,225.8"/>
<path class="pn" d="M1070,130 L889,378"/>
<path class="pn" d="M1078,134 L900,378"/>
<path class="pn" d="M1085,147 L1076,143 L897,385"/>
<path class="pn" d="M865.8,363.6 L882.7,368 L887.7,381.5 L890,383 M882.7,368 L884,366 M869.8,343.7 L878.8,340.7 L879.8,349.6 L875.8,355.6 L870,354 Z"/>
<path class="pn" d="M1052.3,110.2 L886.3,320.9" style="stroke-width:1.4"/>
<path class="pn" d="M1053,108.2 L1067.8,109 Q1080,114 1087.4,121.3 L1094,124.5"/>
<path class="p" d="M1078,128 Q1080,122 1086,121.3 Q1094,121 1096,126 L1098.9,170 Q1098,178 1090,180.1 Q1082,180 1080,174 Z"/>
<path class="pn" d="M1081,136 L1085,133 L1087,135 L1090,133 L1092,172 L1084,174 Z"/>
<ellipse class="pn" cx="1088.5" cy="165.0" rx="1.5" ry="1.8"/>
<ellipse class="pn" cx="1083.0" cy="170.0" rx="1.3" ry="1.6"/>
<ellipse class="pn" cx="1072.0" cy="155.5" rx="1.5" ry="1.8"/>
<path class="pn" d="M1063,162 L1108.7,240"/>
<path class="dd" d="M1074.3,175.2 L1104,232"/>
<path class="pn" d="M1066,160 L1090,153 M1074,176 L1085,172"/>
<path class="p" d="M990,180 L1020,166 L1029,170 L1001,207 L994,211 L989,206 Z"/>
<path class="pn" d="M990,180 L996,187 L995,210 M996,187 L1026,171"/>
<ellipse class="pn" cx="1003.0" cy="186.0" rx="1.6" ry="2.0"/>
<path class="pn" d="M999,195 L1010,201 M1028,196 L1040,204 L1053,190"/>
<ellipse class="p" cx="983.7" cy="167.9" rx="4.6" ry="4.4"/>
<ellipse class="pn" cx="983.7" cy="167.9" rx="2.1" ry="2.0"/>
<ellipse class="p" cx="1053.6" cy="233.7" rx="4.6" ry="4.4"/>
<ellipse class="pn" cx="1053.6" cy="233.7" rx="2.1" ry="2.0"/>
<ellipse class="p" cx="1104.6" cy="279.4" rx="4.6" ry="4.4"/>
<ellipse class="pn" cx="1104.6" cy="279.4" rx="2.1" ry="2.0"/>
<path class="pn" d="M983.7,167.9 L993,173"/>
<g transform="translate(1120.8,120.9) rotate(144.1)"><rect class="p" x="3.5" y="-2.0" width="14.8" height="4.0" rx="1"/><path class="p" d="M0,-4.3 H5.5 V4.3 H0 Z"/><ellipse class="p" cx="0" cy="0" rx="2.1" ry="4.3"/><ellipse class="pn" cx="0" cy="0" rx="0.9" ry="1.9"/></g>
<g transform="translate(1123.5,142.4) rotate(146.6)"><rect class="p" x="3.5" y="-2.0" width="15.9" height="4.0" rx="1"/><path class="p" d="M0,-4.3 H5.5 V4.3 H0 Z"/><ellipse class="p" cx="0" cy="0" rx="2.1" ry="4.3"/><ellipse class="pn" cx="0" cy="0" rx="0.9" ry="1.9"/></g>
<path class="pn" d="M1106,131.6 L1100,136 M1107.3,153.1 L1101,157"/>
<path class="p" d="M1070,215 L1075,212 L1082,222 L1086,225 Q1090,230 1088,240 L1092,256 L1097,262 L1093,272 L1084,275 L1080,262 L1083,246 L1076,232 Z"/>
<rect class="p" x="1078" y="252" width="12" height="11" transform="rotate(-20 1084 257)"/>
<path class="pn" d="M1060,236 L1072,234 M1070,228 L1078,260"/>
<path class="p" d="M1031,224 L1040,219 L1043,236 L1034,240 Z"/>
<ellipse class="pn" cx="1037.0" cy="226.0" rx="1.2" ry="1.4"/>
<path class="pn" d="M1035,240 L1021,265 Q1018,272 1015,270 L1013,277 M1038,241 L1024,266 Q1020,271 1019,274"/>
<path class="p" d="M1053,263 L1064,272 L1058,286 L1049,281"/>
<ellipse class="pn" cx="1058.0" cy="276.0" rx="1.2" ry="1.4"/>
<path class="pn" d="M1040,244 L1058,268"/>
<ellipse class="pn" cx="1087.2" cy="297.0" rx="4.5" ry="6.5" transform="rotate(30 1087.2 297)"/>
<ellipse class="pn" cx="1076.4" cy="311.5" rx="4.5" ry="6.5" transform="rotate(30 1076.4 311.5)"/>
<ellipse class="pn" cx="1066.0" cy="326.5" rx="4.5" ry="6.5" transform="rotate(30 1066 326.5)"/>
<path class="pn" d="M1055,300 L1072,311"/>
<path class="p" d="M882,333 L885,323 L901,320 L906,327 L903,342 L886,344 Z"/>
<path class="pn" d="M885,323 L890,330 L906,327 M890,330 L888,344 M895,328 L893,343"/>
<path class="pn" d="M884,366 L1060,125"/>
<path class="p" d="M853,400 L862,394 L868,399 L870,393 L880,396 Q885,401 881,409 L872,411 L865,408 L858,410 Z"/>
<ellipse class="pn" cx="877.0" cy="402.0" rx="5.0" ry="6.5" transform="rotate(-20 877 402)"/>
<ellipse class="pn" cx="861.0" cy="404.0" rx="1.2" ry="1.2"/>
<path class="pn" d="M866,386 L872,395"/>
<path class="dd" d="M864,388 L868,378"/>
<path class="p" d="M983.4,445.4 L1008.2,408.7 L1022.1,412.6 L1027.1,419.6 L1029.1,427.5 L1039,426.5 L1044,433.5 L1045,449.4 L1039,447.4 L1030,452 L1020,460 L1004.3,463.3 L1000.3,460.3 L987.4,453.3 Z"/>
<path class="pn" d="M983.4,445.4 Q986,440 992,443 L1000.3,460.3 M992,443 L1016,414 L1022.1,412.6 M997,447 L1020,418 M1000,452 L1025,422"/>
<ellipse class="pn" cx="987.0" cy="449.0" rx="4.0" ry="5.5" transform="rotate(-30 987 449)"/>
<path class="pn" d="M1029.1,427.5 L1035,435.5 L1039,447.4 M1033,430 Q1040,432 1041,446"/>
<path class="pn" d="M1007,440 L1012,436 L1020,438 L1026,432 L1032,436 L1030,446 L1022,452 L1014,458 L1008,455 Z"/>
<ellipse class="pn" cx="1015.0" cy="441.0" rx="2.3" ry="2.0"/>
<ellipse class="pn" cx="1021.0" cy="448.0" rx="2.3" ry="2.0"/>
<ellipse class="pn" cx="1028.0" cy="440.0" rx="2.3" ry="2.0"/>
<path class="pn" d="M1005,448 L1008,458 M1012,450 L1015,459" style="stroke-width:1.6"/>
<path class="p" d="M990,418 L1000,416 L1003,421 L996,425 Z"/>
<line class="pn" x1="995.0" y1="413.0" x2="998.0" y2="420.0"/>
<rect class="p" x="0" y="-1.3" width="15.8" height="2.6" rx="1.3" transform="translate(1026.8,455.3) rotate(54.8)"/>
<path class="p" d="M968,470 L990,462 L993.3,470 L987,480 L978,487.1 L968,484 Z"/>
<path class="pn" d="M974,468 Q984,466 990,470 M972,474 Q980,470 988,474"/>
<ellipse class="pn" cx="975.0" cy="478.0" rx="3.0" ry="2.6"/>
<ellipse class="pn" cx="978.0" cy="482.0" rx="1.8" ry="1.6"/>
<path class="pn" d="M964,468 L990,455 L997,462 L986,487 L969,489 L964,478"/>
<path class="p" d="M936.7,522.9 L934,516 L937,512 L934,508 L940,503 L963,474 L970,478 L946,512 L942,522 Z"/>
<path class="pn" d="M944,510 L967,479"/>
<circle cx="962" cy="487" r="1.8" fill="#111"/>
<path class="pn" d="M962,487 L972,493"/>
<rect x="-6" y="-2.2" width="12" height="4.4" rx="2.2" fill="#111" transform="translate(979,497.7) rotate(34)"/>
<path class="dd" d="M764.7,516.7 L827.2,482.5 L868.5,513.2"/>
<path class="pn" d="M824.3,295 V299"/>
<path class="pn" d="M820.8,299 L829.6,300.3 L820.8,301.6 L829.6,302.9 L820.8,304.2 L829.6,305.5 L820.8,306.8 L829.6,308.1 L820.8,309.4 L829.6,310.7 L820.8,312.0 L829.6,313.3 L820.8,314.6 L829.6,315.9 L820.8,317.2 L829.6,318.5 L820.8,319.8 L829.6,321.1 L820.8,322.4" style="stroke-width:1.5"/>
<rect class="pn" x="820.8" y="298.6" width="8.8" height="23.8" rx="2" style="stroke-width:1.3"/>
<path class="pn" d="M824.3,322 V334"/>
<path class="pn" d="M821,329.6 H828"/>
<path class="p" d="M825.5,334.1 L831.4,335.8 L833.7,339.3 L833.7,345.2 L838.4,353.4 L838.4,372 L830.2,377.9 L817.4,370.9 L820.9,365 L820.9,345.2 L823.8,344 L824.4,341.7 Z"/>
<path class="pn" d="M836,354 V372 L829,376 M824.4,342 V372"/>
<path class="pn" d="M818,372 Q820,366 826,368 Q831,371 829,376"/>
<ellipse class="pn" cx="825.5" cy="371.5" rx="3.0" ry="2.0"/>
<path class="p" d="M813,388.4 V397 A11.4,5 0 0 0 835.8,397 V388.4 Z" style="stroke-width:1.8"/>
<ellipse class="p" cx="824.4" cy="388.4" rx="11.4" ry="5.6" style="stroke-width:2"/>
<path class="pn" d="M816,385 L833,392 M833,385 L816,392" style="stroke-width:1.6"/>
<line class="pn" x1="816.0" y1="393.0" x2="816.0" y2="401.5"/>
<line class="pn" x1="819.0" y1="393.0" x2="819.0" y2="401.5"/>
<line class="pn" x1="822.0" y1="393.0" x2="822.0" y2="401.5"/>
<line class="pn" x1="825.0" y1="393.0" x2="825.0" y2="401.5"/>
<line class="pn" x1="828.0" y1="393.0" x2="828.0" y2="401.5"/>
<line class="pn" x1="831.0" y1="393.0" x2="831.0" y2="401.5"/>
<line class="pn" x1="834.0" y1="393.0" x2="834.0" y2="401.5"/>
<path class="pn" d="M805.6,420 L805.6,447.8 L815.6,463.3 L793.3,493.3 L791.1,553.3 Q784,558 790,563.3 L803.3,564.4 L806.7,562.2 L806.7,526.7" style="stroke:#111;stroke-width:4;stroke-linejoin:round"/>
<path class="pn" d="M805.6,420 L805.6,447.8 L815.6,463.3 L793.3,493.3 L791.1,553.3 Q784,558 790,563.3 L803.3,564.4 L806.7,562.2 L806.7,526.7" style="stroke:#fff;stroke-width:1.6;stroke-linejoin:round"/>
<path class="pn" d="M824.4,403 V423.4 L805.1,412.9 V420" style="stroke:#111;stroke-width:4;stroke-linejoin:round"/>
<path class="pn" d="M824.4,403 V423.4 L805.1,412.9 V420" style="stroke:#fff;stroke-width:1.6;stroke-linejoin:round"/>
<path class="p" d="M786.9,573.4 L792.2,572.6 L810.9,583.4 L812.1,586.3 L810.9,596.2 L805,599.1 L786.4,592.7 L780.5,587.5 L781.1,582.2 L785.8,579.9 Z" style="stroke-width:1.9"/>
<path class="pn" d="M785.8,579.9 L806,590.5 L811,587 M789,575 L790,584 M792.2,572.6 L794,581 M786,585 L804,593.5 M805,590.5 L805,599" style="stroke-width:1.5"/>
<ellipse class="pn" cx="784.0" cy="587.0" rx="3.0" ry="4.0" transform="rotate(-25 784 587)" style="stroke-width:1.5"/>
<path class="pn" d="M796,587 L802,590 L801,595 L795,592 Z"/>
<line class="pn" x1="797.0" y1="565.0" x2="797.0" y2="583.0"/>
<path class="pn" d="M1007.6,543 L1019.4,544.2 L1007.6,545.5 L1019.4,546.8 L1007.6,548.0 L1019.4,549.2 L1007.6,550.5 L1019.4,551.8 L1007.6,553.0 L1019.4,554.2 L1007.6,555.5 L1019.4,556.8 L1007.6,558.0 L1019.4,559.2 L1007.6,560.5" style="stroke-width:1.4"/>
<rect class="pn" x="1007.6" y="542.6" width="11.8" height="17.7" rx="3" style="stroke-width:1.3"/>
<path class="p" d="M993.3,570.9 Q995,566 999,566 L1005,567 L1012.1,564.3 L1019.5,561.9 L1023.6,565.2 L1031.8,568.4 L1033.4,571.7 L1039.5,575.8 L1036.7,579.1 L1015.4,584.8 L1007.2,588.9 L1000.7,584.8 L998.2,578.2 L994.2,574.2 Z"/>
<path class="pn" d="M999,566 Q1003,568 1005,572 L1015.4,578 L1036,575 M1005,572 L1003,579 L998.2,578.2 M1007,576 L1010,586 M1012,567 L1014,579"/>
<ellipse class="p" cx="1019.5" cy="568.4" rx="3.0" ry="3.0"/>
<ellipse class="pn" cx="1019.5" cy="568.4" rx="1.4" ry="1.4"/>
<ellipse class="p" cx="1035.9" cy="575.8" rx="3.0" ry="2.8"/>
<ellipse class="pn" cx="1035.9" cy="575.8" rx="1.3" ry="1.3"/>
<path class="pn" d="M1000.7,584.8 L1004,588 L1007.2,588.9"/>
<line class="pn" x1="1013.5" y1="561.0" x2="1013.5" y2="566.0"/>
<path class="p" d="M728.4,500 L730,540 L724,543 Q722,552 728.4,556 L735,560 L736.5,572 L744,572 L746,560 L752,572 L758,560 L765,543 L757.7,519.3 L759.1,501.7 L740,490 Z"/>
<path class="pn" d="M736.5,478 V571.9 M739,478 V571.9 M743,480 V570 M746,482 V560"/>
<path class="pn" d="M731,510 Q728,525 731.4,539.7 M724,543 Q726,548 730,550 M752,560 Q756,550 762,548 M748,540 Q752,530 758,528"/>
<path class="p" d="M733,505 Q736,500 740,503 Q741,508 737,510 Z M746,515 Q750,510 754,513 Q755,518 750,520 Z" style="fill:#333"/>
<path class="p" d="M719.7,466 Q720,461 725.5,461.6 L763.5,482 Q767.1,484 767.1,489 L766.4,498.8 Q765,502 759.1,501.7 L722,481 Q719.7,480 719.7,476 Z"/>
<path class="pn" d="M725.5,461.6 L727,467 L766,488 M727,467 L725,481"/>
<ellipse class="pn" cx="727.0" cy="474.0" rx="3.6" ry="4.2" style="stroke-width:2"/>
<ellipse class="pn" cx="727.0" cy="474.0" rx="1.6" ry="2.0"/>
<ellipse class="pn" cx="758.4" cy="492.3" rx="3.6" ry="4.2" style="stroke-width:2"/>
<ellipse class="pn" cx="758.4" cy="492.3" rx="1.6" ry="2.0"/>
<path class="pn" d="M765,510 L772,514"/>
<ellipse class="pn" cx="763.0" cy="513.0" rx="2.0" ry="2.5"/>
<path class="p" d="M674.4,493.7 Q674,487 680,488 L718,508 Q722.5,511 721.9,516 L721,521 Q719,526 713,524 L677,503 Q674,500 674.4,493.7 Z"/>
<path class="pn" d="M678,489.5 L717,510.5 Q721,513 720,518"/>
<ellipse class="pn" cx="680.2" cy="499.5" rx="3.0" ry="2.6"/>
<ellipse class="pn" cx="712.4" cy="517.0" rx="3.0" ry="2.6"/>
<path class="dd" d="M685,489 L719.7,470 M721,510 L740,497"/>
<path class="p" d="M693.5,522.0 V527.0 A4.5,2.5 0 0 0 702.5,527.0 V522.0 A4.5,2.5 0 0 0 693.5,522.0 Z"/>
<ellipse class="pn" cx="698.0" cy="522.0" rx="4.5" ry="2.5"/>
<g transform="translate(646.2,519.7) rotate(-27.6)"><rect class="p" x="6.0" y="-2.8" width="23.1" height="5.5" rx="1"/><path class="p" d="M0,-5 H8 V5 H0 Z"/><ellipse class="p" cx="0" cy="0" rx="2.5" ry="5"/><ellipse class="pn" cx="0" cy="0" rx="1.1" ry="2.2"/></g>
<g transform="translate(659.7,547.9) rotate(-30.1)"><rect class="p" x="6.0" y="-2.8" width="20.9" height="5.5" rx="1"/><path class="p" d="M0,-5 H8 V5 H0 Z"/><ellipse class="p" cx="0" cy="0" rx="2.5" ry="5"/><ellipse class="pn" cx="0" cy="0" rx="1.1" ry="2.2"/></g>
<path class="dd" d="M688,513 L696,533 L684,557 M700,520 L691,555"/>
<path class="p" d="M686,560 Q685,553 690,552 Q695,553 696,557 L699,556 Q705,557 704.5,563 L703.9,568 L702.6,635 L694,633.8 L691.6,597 L687.9,567.5 Z"/>
<ellipse class="pn" cx="689.5" cy="557.0" rx="3.6" ry="4.0" style="stroke-width:1.8"/>
<ellipse class="pn" cx="701.0" cy="561.0" rx="3.2" ry="3.6" style="stroke-width:1.8"/>
<path class="p" d="M681,584 L690,580 L702.6,586 L702,597 L692,598 L682,592 Z"/>
<path class="pn" d="M690,580 L691,597 M696,600 L701,600 M696,612 V625 M699,610 V628"/>
<path class="p" d="M686,588 L690,586 L690,592 Z" style="fill:#333"/>
<rect class="p" x="0" y="-1.7" width="17.9" height="3.4" rx="1.7" transform="translate(711.0,570.0) rotate(33.2)"/>
<path class="p" d="M640.1,578.6 L653.6,581 L654.8,587.2 L662.2,588.4 L667.1,593.3 L664.6,611.7 L669.5,636.2 L668.3,639.9 Q660,637 653.6,631.3 Q647,624 646.2,616.6 L645,592.1 L642.5,584.7 Z"/>
<path class="pn" d="M642.5,584.7 L654.8,587.2 M650,590 L651,620 Q653,630 662,636 M657,592 L659,604 L663,606"/>
<path class="pn" d="M662.2,588.4 L661,600 L664.6,611.7"/>
<rect class="p" x="0" y="-1.2" width="18.4" height="2.4" rx="1.2" transform="translate(611.9,589.0) rotate(21.7)"/>
<path class="pn" d="M629,596 L660,612"/>
<path class="pn" d="M680,607 L668,614"/>
<line class="pn" x1="1180.9" y1="482.0" x2="1180.9" y2="494.0"/>
<path class="p" d="M1167,510 V526 A13.5,5.5 0 0 0 1194,526 V510 Z"/>
<ellipse class="p" cx="1180.5" cy="510.0" rx="13.5" ry="5.0"/>
<path class="th" d="M1167.0,514.7 A13.5,5.0 0 0 0 1194.0,514.7"/>
<path class="th" d="M1167.0,517.0 A13.5,5.0 0 0 0 1194.0,517.0"/>
<path class="pn" d="M1172,520.5 L1178,524.5" style="stroke-width:3"/>
<path class="pn" d="M1172,520.5 L1178,524.5" style="stroke:#fff;stroke-width:1"/>
<ellipse class="pn" cx="1181.0" cy="529.4" rx="2.5" ry="1.3"/>
<path class="p" d="M1170,498 V505 A10.8,4 0 0 0 1191.5,505 V498 Z"/>
<ellipse class="th" cx="1180.8" cy="498.5" rx="10.8" ry="4.5"/>
<ellipse class="pn" cx="1180.8" cy="498.5" rx="6.5" ry="2.8"/>
<path class="th" d="M1170.0,501.5 A10.8,4.5 0 0 0 1191.6,501.5"/>
<path class="pn" d="M1170.0,504.0 A10.8,4.5 0 0 0 1191.6,504.0"/>
<rect class="p" x="0" y="-1.8" width="10.8" height="3.6" rx="1.8" transform="translate(1151.6,528.9) rotate(-29.4)"/>
<rect class="p" x="0" y="-1.8" width="11.4" height="3.6" rx="1.8" transform="translate(1161.6,540.4) rotate(-29.9)"/>
<ellipse class="pn" cx="1151.9" cy="528.7" rx="1.6" ry="1.6"/>
<line class="pn" x1="1180.9" y1="532.0" x2="1180.9" y2="540.0"/>
<path class="p" d="M1175.2,541 V553 H1186.2 V541 Z"/>
<ellipse class="p" cx="1180.7" cy="541.0" rx="5.5" ry="2.2"/>
<path class="pn" d="M1175.2,544.0 A5.5,2.0 0 0 0 1186.2,544.0"/>
<path class="pn" d="M1175.2,546.5 A5.5,2.0 0 0 0 1186.2,546.5"/>
<path class="pn" d="M1175.2,549.0 A5.5,2.0 0 0 0 1186.2,549.0"/>
<path class="p" d="M1173.6,556 V563 A7,3 0 0 0 1187.8,563 V556 Z" style="stroke-width:1.6"/>
<ellipse class="p" cx="1180.7" cy="556.0" rx="7.0" ry="3.0" style="stroke-width:1.6"/>
<path class="th" d="M1173.7,560.0 A7.0,3.0 0 0 0 1187.7,560.0"/>
<rect x="1177.4" y="570" width="6" height="17.2" rx="2.5" fill="#111"/>
<line class="pn" x1="1178.5" y1="572.0" x2="1182.5" y2="573.0"/>
<line class="pn" x1="1178.5" y1="575.0" x2="1182.5" y2="576.0"/>
<line class="pn" x1="1178.5" y1="578.0" x2="1182.5" y2="579.0"/>
<line class="pn" x1="1178.5" y1="581.0" x2="1182.5" y2="582.0"/>
<line class="pn" x1="1178.5" y1="584.0" x2="1182.5" y2="585.0"/>
<line class="pn" x1="1180.4" y1="566.0" x2="1180.4" y2="570.0"/>
<line class="pn" x1="1180.4" y1="587.0" x2="1180.4" y2="594.0"/>
<path class="p" d="M1178,598 L1180.5,594.4 L1183,598 V619.3 H1178 Z"/>
<rect class="p" x="1177.2" y="602" width="6.6" height="10" rx="1"/>
<line class="pn" x1="1177.2" y1="605.0" x2="1183.8" y2="605.0"/>
<line class="pn" x1="1177.2" y1="608.0" x2="1183.8" y2="608.0"/>
<path class="p" d="M1171.5,631 V645 A9,3.5 0 0 0 1189.4,645 V631 Z"/>
<ellipse class="th" cx="1180.5" cy="630.5" rx="9.0" ry="4.5"/>
<ellipse class="pn" cx="1180.5" cy="631.5" rx="6.5" ry="3.0"/>
<path class="p" d="M1170.5,637 L1173,636 L1174,646 L1171,646 Z M1187,636 L1190,637 L1190,645 L1187,646 Z"/>
<path class="pn" d="M45.7,779 Q50,772 62,766 Q75,758 90,752 Q96,748 100,748.4 Q108,749 120,749 Q126,748 130.6,749.6 Q140,751 146,754 Q151,758 149,765 Q147,770 150.6,775.6 Q150,780 140,785 Q125,795 105,802 Q96,806 92.8,807.4 Q88,806 80,801 Q65,792 52,786 Q45,783 45.7,779 Z"/>
<path class="pn" d="M60,778 Q62,770 75,764 Q95,756 120,755 Q138,755 142,762 Q144,770 136,777 Q125,787 110,794 Q98,800 92,800 Q78,794 66,788 Q58,784 60,778 Z"/>
<ellipse class="pn" cx="51.0" cy="779.0" rx="3.4" ry="2.0"/>
<ellipse class="pn" cx="100.0" cy="750.5" rx="3.4" ry="2.0"/>
<ellipse class="pn" cx="130.6" cy="750.5" rx="3.4" ry="2.0"/>
<ellipse class="pn" cx="143.5" cy="759.5" rx="3.4" ry="2.0"/>
<ellipse class="pn" cx="144.0" cy="775.0" rx="3.4" ry="2.0"/>
<ellipse class="pn" cx="93.0" cy="804.0" rx="3.4" ry="2.0"/>
<ellipse class="pn" cx="94.0" cy="802.7" rx="15.5" ry="21.0" transform="rotate(-12 94 802.7)"/>
<ellipse class="pn" cx="94.0" cy="802.7" rx="12.5" ry="18.0" transform="rotate(-12 94 802.7)"/>
<ellipse class="pn" cx="143.5" cy="784.5" rx="26.0" ry="15.5"/>
<ellipse class="pn" cx="143.5" cy="784.5" rx="24.0" ry="13.5"/>
<line class="ax" x1="209.3" y1="163.0" x2="209.3" y2="186.0"/>
<line class="ax" x1="209.3" y1="434.0" x2="209.3" y2="462.0"/>
<line class="ax" x1="209.3" y1="490.0" x2="209.3" y2="512.0"/>
<line class="ax" x1="209.3" y1="548.0" x2="209.3" y2="573.0"/>
<line class="ax" x1="365.8" y1="460.0" x2="365.8" y2="492.0"/>
<line class="ax" x1="365.8" y1="516.0" x2="365.8" y2="548.0"/>
<line class="ax" x1="365.8" y1="297.0" x2="365.8" y2="312.0"/>
<line class="ax" x1="365.8" y1="563.0" x2="365.8" y2="578.0"/>
<polyline class="ld" points="135.7,57.8 200.0,57.8"/>
<polyline class="ld" points="135.7,105.0 178.4,105.0"/>
<polyline class="ld" points="135.7,144.7 200.0,144.7"/>
<polyline class="ld" points="135.7,182.4 186.3,182.4"/>
<polyline class="ld" points="135.7,276.7 156.3,276.7"/>
<polyline class="ld" points="135.7,318.8 169.4,318.8"/>
<polyline class="ld" points="135.7,411.5 167.3,411.5"/>
<polyline class="ld" points="135.7,461.0 183.0,461.0"/>
<polyline class="ld" points="142.0,492.9 188.3,492.9"/>
<polyline class="ld" points="142.0,507.2 183.0,507.2"/>
<polyline class="ld" points="142.0,522.3 184.0,522.3"/>
<polyline class="ld" points="142.0,568.3 183.0,568.3"/>
<polyline class="ld" points="142.0,606.6 188.3,606.6"/>
<polyline class="ld" points="314.3,99.5 334.8,99.5"/>
<polyline class="ld" points="320.9,158.9 343.0,158.9"/>
<polyline class="ld" points="320.7,196.1 365.8,196.1"/>
<polyline class="ld" points="314.7,343.6 337.6,343.6"/>
<polyline class="ld" points="314.7,363.0 338.6,363.0"/>
<polyline class="ld" points="314.7,467.0 334.0,467.0"/>
<polyline class="ld" points="314.7,494.0 328.8,494.0"/>
<polyline class="ld" points="314.7,542.2 340.4,542.2"/>
<polyline class="ld" points="321.0,583.8 340.4,583.8"/>
<polyline class="ld" points="314.7,620.3 351.9,620.3"/>
<polyline class="ld" points="461.5,74.2 469.4,107.3 458.3,107.3"/>
<polyline class="ld" points="441.0,191.5 471.0,191.5"/>
<polyline class="ld" points="501.5,179.8 526.1,179.8"/>
<polyline class="ld" points="555.0,230.3 570.0,230.3"/>
<polyline class="ld" points="555.0,253.7 564.4,253.7"/>
<polyline class="ld" points="557.6,389.5 575.0,389.5"/>
<polyline class="ld" points="588.2,461.0 606.2,461.0"/>
<polyline class="ld" points="720.1,187.4 741.4,196.8"/>
<polyline class="ld" points="700.1,200.3 720.1,211.0"/>
<polyline class="ld" points="775.6,133.8 799.2,133.8"/>
<polyline class="ld" points="805.0,101.7 828.6,101.7"/>
<polyline class="ld" points="897.5,66.5 918.9,66.5"/>
<polyline class="ld" points="898.2,157.9 913.5,162.6"/>
<polyline class="ld" points="825.1,215.7 813.3,225.1"/>
<polyline class="ld" points="855.8,246.3 886.4,246.3"/>
<polyline class="ld" points="727.2,168.5 749.6,182.6"/>
<polyline class="ld" points="732.1,285.6 725.1,290.5"/>
<polyline class="ld" points="732.1,308.1 725.1,311.6"/>
<polyline class="ld" points="714.6,315.1 730.7,326.3"/>
<polyline class="ld" points="724.4,349.5 732.1,361.4 724.4,357.2"/>
<polyline class="ld" points="723.0,386.6 732.1,386.6"/>
<polyline class="ld" points="705.1,469.9 719.8,469.9"/>
<polyline class="ld" points="658.0,493.5 674.4,493.5"/>
<polyline class="ld" points="645.0,524.6 636.4,541.8 654.8,545.5"/>
<polyline class="ld" points="727.2,579.3 751.7,579.3"/>
<polyline class="ld" points="703.9,604.8 726.0,604.8"/>
<polyline class="ld" points="605.8,592.0 611.9,592.0"/>
<polyline class="ld" points="627.8,619.0 645.0,619.0"/>
<polyline class="ld" points="995.8,145.0 986.4,162.5"/>
<polyline class="ld" points="1124.8,120.9 1131.5,127.6 1124.8,138.4"/>
<polyline class="ld" points="1068.4,198.8 1104.6,198.8"/>
<polyline class="ld" points="1057.6,228.4 1115.4,228.4"/>
<polyline class="ld" points="1108.7,279.4 1120.8,279.4"/>
<polyline class="ld" points="1094.0,297.0 1101.0,297.0"/>
<polyline class="ld" points="1083.0,311.7 1091.0,311.7"/>
<polyline class="ld" points="1071.0,327.1 1082.0,327.1"/>
<polyline class="ld" points="816.1,313.8 820.8,313.8"/>
<polyline class="ld" points="816.1,329.6 826.6,329.6"/>
<polyline class="ld" points="816.1,352.3 823.1,352.3"/>
<polyline class="ld" points="813.8,381.5 819.6,383.9"/>
<polyline class="ld" points="860.0,318.9 887.4,318.9"/>
<polyline class="ld" points="1034.7,388.7 1016.8,414.5"/>
<polyline class="ld" points="1036.7,460.2 1056.5,460.2"/>
<polyline class="ld" points="983.0,498.0 1006.9,498.0"/>
<polyline class="ld" points="987.0,515.9 955.2,502.0"/>
<polyline class="ld" points="893.3,515.5 909.8,515.5"/>
<polyline class="ld" points="808.3,540.8 819.0,540.8"/>
<polyline class="ld" points="810.7,589.8 816.6,589.8"/>
<polyline class="ld" points="979.3,548.5 1007.6,548.5"/>
<polyline class="ld" points="979.3,568.6 994.7,568.6"/>
<polyline class="ld" points="1157.6,501.5 1169.9,501.5"/>
<polyline class="ld" points="1157.6,515.7 1166.2,515.7"/>
<polyline class="ld" points="1150.3,528.5 1139.2,530.9 1161.3,537.0"/>
<polyline class="ld" points="1196.8,529.7 1185.8,527.2"/>
<polyline class="ld" points="1157.6,550.0 1174.8,550.0"/>
<polyline class="ld" points="1187.0,544.4 1198.0,546.8 1187.0,554.2"/>
<polyline class="ld" points="1157.6,562.3 1173.5,562.3"/>
<polyline class="ld" points="1157.6,575.0 1177.2,575.0"/>
<polyline class="ld" points="1183.4,595.1 1198.0,595.1"/>
<polyline class="ld" points="1178.4,605.7 1157.6,608.1 1178.4,611.8"/>
<polyline class="ld" points="1157.6,640.7 1172.3,640.7"/>
<polyline class="ld" points="196.0,779.0 258.0,753.2 264.0,753.2"/>
<path d="M119.1,52.7 L122.3,49.6 V62.3" fill="none" stroke="#111" stroke-width="1.3" stroke-linejoin="round"/>
<text class="lb" transform="translate(118.3,111.0) scale(0.86,1)">3</text>
<text class="lb" transform="translate(118.3,149.6) scale(0.86,1)">2</text>
<text class="lb" transform="translate(108.9,186.4) scale(0.86,1)">2</text>
<text class="lb" transform="translate(118.6,186.4) scale(0.86,1)">4</text>
<text class="lb" transform="translate(118.4,282.6) scale(0.86,1)">4</text>
<text class="lb" transform="translate(118.4,324.6) scale(0.86,1)">5</text>
<text class="lb" transform="translate(119.4,420.6) scale(0.86,1)">6</text>
<text class="lb" transform="translate(119.4,466.6) scale(0.86,1)">7</text>
<text class="lb" transform="translate(119.4,500.4) scale(0.86,1)">8</text>
<path d="M113.2,507.6 L116.4,504.5 V517.2" fill="none" stroke="#111" stroke-width="1.3" stroke-linejoin="round"/>
<text class="lb" transform="translate(118.8,517.2) scale(0.86,1)">0</text>
<text class="lb" transform="translate(119.4,532.0) scale(0.86,1)">9</text>
<path d="M120.2,567.7 L123.4,564.6 V577.3" fill="none" stroke="#111" stroke-width="1.3" stroke-linejoin="round"/>
<path d="M126.6,567.7 L129.8,564.6 V577.3" fill="none" stroke="#111" stroke-width="1.3" stroke-linejoin="round"/>
<path d="M120.2,605.6 L123.4,602.5 V615.2" fill="none" stroke="#111" stroke-width="1.3" stroke-linejoin="round"/>
<text class="lb" transform="translate(125.8,615.2) scale(0.86,1)">2</text>
<path d="M294.1,93.0 L297.3,89.9 V102.6" fill="none" stroke="#111" stroke-width="1.3" stroke-linejoin="round"/>
<text class="lb" transform="translate(299.7,102.6) scale(0.86,1)">3</text>
<path d="M301.5,153.5 L304.7,150.4 V163.1" fill="none" stroke="#111" stroke-width="1.3" stroke-linejoin="round"/>
<text class="lb" transform="translate(307.1,163.1) scale(0.86,1)">4</text>
<path d="M301.0,189.5 L304.2,186.4 V199.1" fill="none" stroke="#111" stroke-width="1.3" stroke-linejoin="round"/>
<text class="lb" transform="translate(306.6,199.1) scale(0.86,1)">5</text>
<path d="M290.2,341.6 L293.4,338.5 V351.2" fill="none" stroke="#111" stroke-width="1.3" stroke-linejoin="round"/>
<text class="lb" transform="translate(295.8,351.2) scale(0.86,1)">6</text>
<path d="M290.2,359.4 L293.4,356.3 V369.0" fill="none" stroke="#111" stroke-width="1.3" stroke-linejoin="round"/>
<text class="lb" transform="translate(295.8,369.0) scale(0.86,1)">9</text>
<path d="M290.5,464.4 L293.7,461.3 V474.0" fill="none" stroke="#111" stroke-width="1.3" stroke-linejoin="round"/>
<text class="lb" transform="translate(296.1,474.0) scale(0.86,1)">7</text>
<path d="M290.5,491.4 L293.7,488.3 V501.0" fill="none" stroke="#111" stroke-width="1.3" stroke-linejoin="round"/>
<text class="lb" transform="translate(296.1,501.0) scale(0.86,1)">8</text>
<text class="lb" transform="translate(287.1,548.5) scale(0.86,1)">2</text>
<text class="lb" transform="translate(296.8,548.5) scale(0.86,1)">0</text>
<text class="lb" transform="translate(293.5,590.9) scale(0.86,1)">2</text>
<path d="M304.0,581.3 L307.2,578.2 V590.9" fill="none" stroke="#111" stroke-width="1.3" stroke-linejoin="round"/>
<text class="lb" transform="translate(287.1,626.8) scale(0.86,1)">2</text>
<text class="lb" transform="translate(296.8,626.8) scale(0.86,1)">2</text>
<path d="M475.9,109.3 L479.1,106.2 V118.9" fill="none" stroke="#111" stroke-width="1.3" stroke-linejoin="round"/>
<text class="lb" transform="translate(481.5,118.9) scale(0.86,1)">4</text>
<path d="M477.5,186.6 L480.7,183.5 V196.2" fill="none" stroke="#111" stroke-width="1.3" stroke-linejoin="round"/>
<text class="lb" transform="translate(483.1,196.2) scale(0.86,1)">5</text>
<path d="M534.2,177.1 L537.4,174.0 V186.7" fill="none" stroke="#111" stroke-width="1.3" stroke-linejoin="round"/>
<text class="lb" transform="translate(539.8,186.7) scale(0.86,1)">0</text>
<text class="lb" transform="translate(549.5,186.7) scale(0.86,1)">0</text>
<text class="lb" transform="translate(527.4,237.6) scale(0.86,1)">3</text>
<text class="lb" transform="translate(537.1,237.6) scale(0.86,1)">7</text>
<text class="lb" transform="translate(528.8,260.5) scale(0.86,1)">7</text>
<text class="lb" transform="translate(538.5,260.5) scale(0.86,1)">3</text>
<text class="lb" transform="translate(535.4,396.2) scale(0.86,1)">7</text>
<text class="lb" transform="translate(545.1,396.2) scale(0.86,1)">5</text>
<text class="lb" transform="translate(567.2,468.5) scale(0.86,1)">7</text>
<text class="lb" transform="translate(576.9,468.5) scale(0.86,1)">6</text>
<text class="lb" transform="translate(692.4,192.6) scale(0.86,1)">2</text>
<text class="lb" transform="translate(702.1,192.6) scale(0.86,1)">3</text>
<text class="lb" transform="translate(671.2,208.0) scale(0.86,1)">4</text>
<text class="lb" transform="translate(680.9,208.0) scale(0.86,1)">2</text>
<text class="lb" transform="translate(746.7,139.6) scale(0.86,1)">4</text>
<text class="lb" transform="translate(756.4,139.6) scale(0.86,1)">3</text>
<text class="lb" transform="translate(777.3,106.6) scale(0.86,1)">4</text>
<text class="lb" transform="translate(787.0,106.6) scale(0.86,1)">4</text>
<text class="lb" transform="translate(930.8,70.6) scale(0.86,1)">4</text>
<text class="lb" transform="translate(940.5,70.6) scale(0.86,1)">6</text>
<text class="lb" transform="translate(923.6,167.9) scale(0.86,1)">4</text>
<text class="lb" transform="translate(933.3,167.9) scale(0.86,1)">5</text>
<text class="lb" transform="translate(829.2,218.6) scale(0.86,1)">7</text>
<text class="lb" transform="translate(838.9,218.6) scale(0.86,1)">2</text>
<text class="lb" transform="translate(830.4,254.0) scale(0.86,1)">7</text>
<text class="lb" transform="translate(840.1,254.0) scale(0.86,1)">4</text>
<text class="lb" transform="translate(739.0,290.6) scale(0.86,1)">3</text>
<text class="lb" transform="translate(748.7,290.6) scale(0.86,1)">9</text>
<text class="lb" transform="translate(739.0,315.7) scale(0.86,1)">3</text>
<text class="lb" transform="translate(748.7,315.7) scale(0.86,1)">6</text>
<text class="lb" transform="translate(739.0,333.7) scale(0.86,1)">3</text>
<text class="lb" transform="translate(748.7,333.7) scale(0.86,1)">8</text>
<text class="lb" transform="translate(739.0,372.3) scale(0.86,1)">3</text>
<text class="lb" transform="translate(748.7,372.3) scale(0.86,1)">6</text>
<text class="lb" transform="translate(738.2,392.9) scale(0.86,1)">6</text>
<text class="lb" transform="translate(747.9,392.9) scale(0.86,1)">0</text>
<text class="lb" transform="translate(676.3,477.4) scale(0.86,1)">4</text>
<text class="lb" transform="translate(686.0,477.4) scale(0.86,1)">7</text>
<text class="lb" transform="translate(632.1,500.7) scale(0.86,1)">4</text>
<text class="lb" transform="translate(641.8,500.7) scale(0.86,1)">8</text>
<text class="lb" transform="translate(612.5,549.7) scale(0.86,1)">5</text>
<path d="M623.0,540.1 L626.2,537.0 V549.7" fill="none" stroke="#111" stroke-width="1.3" stroke-linejoin="round"/>
<text class="lb" transform="translate(759.7,584.1) scale(0.86,1)">5</text>
<text class="lb" transform="translate(769.4,584.1) scale(0.86,1)">0</text>
<text class="lb" transform="translate(733.9,611.1) scale(0.86,1)">4</text>
<text class="lb" transform="translate(743.6,611.1) scale(0.86,1)">9</text>
<text class="lb" transform="translate(575.4,597.6) scale(0.86,1)">5</text>
<text class="lb" transform="translate(585.1,597.6) scale(0.86,1)">3</text>
<text class="lb" transform="translate(599.0,625.8) scale(0.86,1)">5</text>
<text class="lb" transform="translate(608.7,625.8) scale(0.86,1)">2</text>
<text class="lb" transform="translate(997.9,148.4) scale(0.86,1)">5</text>
<text class="lb" transform="translate(1007.6,148.4) scale(0.86,1)">4</text>
<text class="lb" transform="translate(1133.6,133.6) scale(0.86,1)">7</text>
<text class="lb" transform="translate(1143.3,133.6) scale(0.86,1)">0</text>
<text class="lb" transform="translate(1110.8,203.4) scale(0.86,1)">6</text>
<text class="lb" transform="translate(1120.5,203.4) scale(0.86,1)">7</text>
<text class="lb" transform="translate(1122.9,230.8) scale(0.86,1)">5</text>
<text class="lb" transform="translate(1132.6,230.8) scale(0.86,1)">4</text>
<text class="lb" transform="translate(1124.2,284.0) scale(0.86,1)">5</text>
<text class="lb" transform="translate(1133.9,284.0) scale(0.86,1)">4</text>
<text class="lb" transform="translate(1104.0,301.5) scale(0.86,1)">7</text>
<text class="lb" transform="translate(1113.7,301.5) scale(0.86,1)">7</text>
<text class="lb" transform="translate(1093.3,317.6) scale(0.86,1)">7</text>
<text class="lb" transform="translate(1103.0,317.6) scale(0.86,1)">8</text>
<text class="lb" transform="translate(1083.7,333.7) scale(0.86,1)">7</text>
<text class="lb" transform="translate(1093.4,333.7) scale(0.86,1)">9</text>
<text class="lb" transform="translate(993.9,304.2) scale(0.86,1)">6</text>
<text class="lb" transform="translate(1003.6,304.2) scale(0.86,1)">2</text>
<text class="lb" transform="translate(792.1,319.0) scale(0.86,1)">5</text>
<text class="lb" transform="translate(801.8,319.0) scale(0.86,1)">9</text>
<text class="lb" transform="translate(792.1,336.6) scale(0.86,1)">5</text>
<text class="lb" transform="translate(801.8,336.6) scale(0.86,1)">8</text>
<text class="lb" transform="translate(793.3,358.8) scale(0.86,1)">5</text>
<text class="lb" transform="translate(803.0,358.8) scale(0.86,1)">7</text>
<text class="lb" transform="translate(790.9,386.8) scale(0.86,1)">5</text>
<text class="lb" transform="translate(800.6,386.8) scale(0.86,1)">6</text>
<text class="lb" transform="translate(838.9,326.0) scale(0.86,1)">6</text>
<path d="M849.4,316.4 L852.6,313.3 V326.0" fill="none" stroke="#111" stroke-width="1.3" stroke-linejoin="round"/>
<text class="lb" transform="translate(847.0,384.5) scale(0.86,1)">6</text>
<text class="lb" transform="translate(856.7,384.5) scale(0.86,1)">9</text>
<text class="lb" transform="translate(1038.0,387.3) scale(0.86,1)">6</text>
<text class="lb" transform="translate(1047.7,387.3) scale(0.86,1)">3</text>
<text class="lb" transform="translate(1059.9,466.8) scale(0.86,1)">6</text>
<text class="lb" transform="translate(1069.6,466.8) scale(0.86,1)">6</text>
<text class="lb" transform="translate(1009.4,504.3) scale(0.86,1)">6</text>
<text class="lb" transform="translate(1019.1,504.3) scale(0.86,1)">5</text>
<text class="lb" transform="translate(988.2,523.2) scale(0.86,1)">6</text>
<text class="lb" transform="translate(997.9,523.2) scale(0.86,1)">4</text>
<text class="lb" transform="translate(913.9,519.7) scale(0.86,1)">6</text>
<text class="lb" transform="translate(923.6,519.7) scale(0.86,1)">8</text>
<text class="lb" transform="translate(823.1,545.6) scale(0.86,1)">5</text>
<text class="lb" transform="translate(832.8,545.6) scale(0.86,1)">5</text>
<text class="lb" transform="translate(821.9,594.0) scale(0.86,1)">7</text>
<path d="M832.4,584.4 L835.6,581.3 V594.0" fill="none" stroke="#111" stroke-width="1.3" stroke-linejoin="round"/>
<text class="lb" transform="translate(956.4,552.7) scale(0.86,1)">4</text>
<path d="M966.9,543.1 L970.1,540.0 V552.7" fill="none" stroke="#111" stroke-width="1.3" stroke-linejoin="round"/>
<text class="lb" transform="translate(956.4,576.3) scale(0.86,1)">4</text>
<text class="lb" transform="translate(966.1,576.3) scale(0.86,1)">0</text>
<text class="lb" transform="translate(1138.6,508.2) scale(0.86,1)">2</text>
<text class="lb" transform="translate(1148.3,508.2) scale(0.86,1)">5</text>
<text class="lb" transform="translate(1138.6,521.7) scale(0.86,1)">2</text>
<text class="lb" transform="translate(1148.3,521.7) scale(0.86,1)">7</text>
<text class="lb" transform="translate(1121.4,538.9) scale(0.86,1)">3</text>
<text class="lb" transform="translate(1131.1,538.9) scale(0.86,1)">5</text>
<text class="lb" transform="translate(1202.4,538.9) scale(0.86,1)">2</text>
<text class="lb" transform="translate(1212.1,538.9) scale(0.86,1)">6</text>
<text class="lb" transform="translate(1139.9,556.0) scale(0.86,1)">2</text>
<text class="lb" transform="translate(1149.6,556.0) scale(0.86,1)">9</text>
<text class="lb" transform="translate(1202.4,554.8) scale(0.86,1)">2</text>
<text class="lb" transform="translate(1212.1,554.8) scale(0.86,1)">8</text>
<text class="lb" transform="translate(1131.3,569.5) scale(0.86,1)">3</text>
<text class="lb" transform="translate(1141.0,569.5) scale(0.86,1)">0</text>
<text class="lb" transform="translate(1139.9,584.2) scale(0.86,1)">3</text>
<path d="M1150.4,574.6 L1153.6,571.5 V584.2" fill="none" stroke="#111" stroke-width="1.3" stroke-linejoin="round"/>
<text class="lb" transform="translate(1199.9,600.1) scale(0.86,1)">3</text>
<text class="lb" transform="translate(1209.6,600.1) scale(0.86,1)">2</text>
<text class="lb" transform="translate(1138.6,616.1) scale(0.86,1)">3</text>
<text class="lb" transform="translate(1148.3,616.1) scale(0.86,1)">3</text>
<text class="lb" transform="translate(1139.9,646.7) scale(0.86,1)">3</text>
<text class="lb" transform="translate(1149.6,646.7) scale(0.86,1)">4</text>
<text class="lb" transform="translate(272.7,760.6) scale(0.86,1)">9</text>
<text class="lb" transform="translate(282.4,760.6) scale(0.86,1)">9</text>
<circle class="cc" cx="365.9" cy="54.2" r="9.6" fill="#fff"/><text transform="translate(365.9,58.5) scale(0.72,1)" text-anchor="middle" style="font-size:12.3px">A</text>
<circle class="cc" cx="209" cy="637.7" r="9.6" fill="#fff"/><text transform="translate(209,642.0) scale(0.72,1)" text-anchor="middle" style="font-size:12.3px">A</text>
<circle class="cc" cx="366" cy="641.6" r="9.6" fill="#fff"/><text transform="translate(366,645.9) scale(0.72,1)" text-anchor="middle" style="font-size:12.3px">B</text>
<circle class="cc" cx="647.7" cy="217.7" r="9.6" fill="#fff"/><text transform="translate(647.7,222.0) scale(0.72,1)" text-anchor="middle" style="font-size:12.3px">B</text>
<circle class="cc" cx="719.4" cy="163.8" r="9.6" fill="#fff"/><text transform="translate(719.4,168.1) scale(0.72,1)" text-anchor="middle" style="font-size:12.3px">D</text>
<circle class="cc" cx="1057.6" cy="177.3" r="9.6" fill="#fff"/><text transform="translate(1057.6,181.6) scale(0.72,1)" text-anchor="middle" style="font-size:12.3px">D</text>
<circle class="cc" cx="824.3" cy="285.2" r="9.6" fill="#fff"/><text transform="translate(824.3,289.5) scale(0.72,1)" text-anchor="middle" style="font-size:12.3px">E</text>
<circle class="cc" cx="708.2" cy="421.8" r="9.6" fill="#fff"/><text transform="translate(708.2,426.1) scale(0.72,1)" text-anchor="middle" style="font-size:12.3px">E</text>
<circle class="cc" cx="740.9" cy="344.7" r="9.6" fill="#fff"/><text transform="translate(740.9,349.0) scale(0.72,1)" text-anchor="middle" style="font-size:12.3px">C</text>
<circle class="cc" cx="1180.9" cy="472.6" r="9.6" fill="#fff"/><text transform="translate(1180.9,476.9) scale(0.72,1)" text-anchor="middle" style="font-size:12.3px">C</text>
<rect x="15" y="15" width="1247" height="825" fill="none" stroke="#000" stroke-width="2"/>
<path d="M446 840 V767 H1262 M668 767 V840 M668 804 H1262 M1036.5 804 V840" stroke="#000" stroke-width="2" fill="none"/>
<text x="676" y="795.8" textLength="579" lengthAdjust="spacingAndGlyphs" style="font-size:30px">Ersatzteilliste/list of spare parts/nomenclature des pieces</text>
<text x="677" y="822" style="font-size:12.5px">Type</text>
<text x="813" y="832" textLength="114" lengthAdjust="spacing" style="font-size:27px">4S-DA63</text>
<text x="1045" y="822" style="font-size:12.5px">No.</text>
<text x="1090" y="832" textLength="120" lengthAdjust="spacing" style="font-size:27px">44900001</text>
<text x="1229.5" y="854" style="font-size:12px" textLength="30.5" lengthAdjust="spacingAndGlyphs">110516</text>

<path d="M462,803 C462,786 470,785.5 490,784 C520,781 540,780 549,780 C558,780 578,781 608,784 C628,785.5 636,786 636,803 C636,820 628,820.5 608,822 C578,825 558,826 549,826 C540,826 520,825 490,822 C470,820.5 462,820 462,803 Z" fill="#000"/>
<path d="M465.5,803 C465.5,789 472,788.5 491,787 C520,784.5 540,783.5 549,783.5 C558,783.5 578,784.5 607,787 C626,788.5 632.5,789 632.5,803 C632.5,817 626,817.5 607,819 C578,821.5 558,822.5 549,822.5 C540,822.5 520,821.5 491,819 C472,817.5 465.5,817 465.5,803 Z" fill="none" stroke="#fff" stroke-width="1.4"/>
<text transform="translate(485,811.3) scale(0.86,1)" x="0" y="0" textLength="151.5" lengthAdjust="spacing" style="font-size:26.5px;font-weight:bold;fill:#fff;stroke:#fff;stroke-width:0.7">PREBENA</text>
<circle cx="642.5" cy="791.2" r="4.3" fill="none" stroke="#000" stroke-width="1"/><text x="642.5" y="793.8" text-anchor="middle" style="font-size:7px;font-weight:bold">R</text>

<rect x="27.5" y="675.5" width="169" height="152.5" class="dd"/>
<text x="29.5" y="692.5" style="font-size:17.5px" textLength="142" lengthAdjust="spacing">Pos. 2, 6, 8, 9, 14,</text>
<text x="29.5" y="715.4" style="font-size:17.5px" textLength="156.5" lengthAdjust="spacing">18, 19, 20, 25,27,28,</text>
<text x="29.5" y="737.8" style="font-size:17.5px" textLength="48" lengthAdjust="spacing">30, 33</text>
<circle cx="196" cy="779" r="2.3" fill="#fff" stroke="#111" stroke-width="1"/>

</svg></body></html>
